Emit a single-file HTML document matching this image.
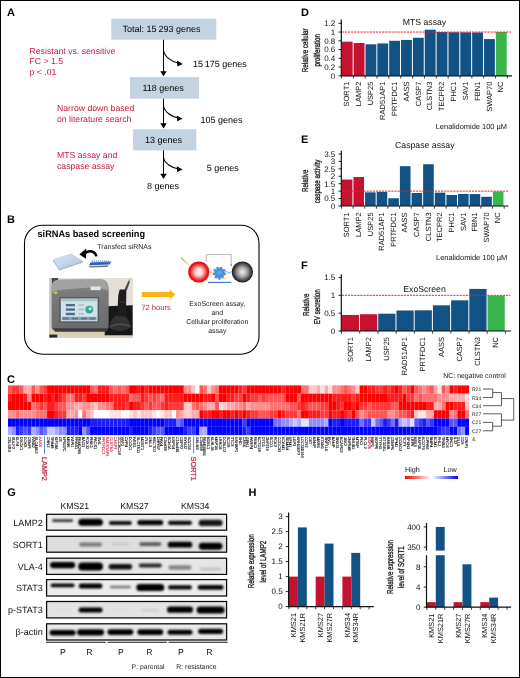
<!DOCTYPE html>
<html lang="en"><head><meta charset="utf-8"><title>Figure</title>
<style>
html,body{margin:0;padding:0;background:#fff;}
body{width:520px;height:678px;overflow:hidden;}
svg{display:block;font-family:"Liberation Sans",Arial,Helvetica,sans-serif;text-rendering:geometricPrecision;}
</style></head><body>
<svg width="520" height="678" viewBox="0 0 520 678">
<defs>
<filter id="b1" x="-20%" y="-80%" width="140%" height="260%"><feGaussianBlur stdDeviation="0.9"/></filter>
<filter id="b2" x="-20%" y="-80%" width="140%" height="260%"><feGaussianBlur stdDeviation="0.6"/></filter>
<filter id="b3" x="-10%" y="-10%" width="120%" height="120%"><feGaussianBlur stdDeviation="0.5"/></filter>
<radialGradient id="gRed" cx="0.5" cy="0.5" r="0.5"><stop offset="0" stop-color="#fff"/><stop offset="0.35" stop-color="#ffd0d0"/><stop offset="0.8" stop-color="#f02020"/><stop offset="1" stop-color="#e00000"/></radialGradient>
<radialGradient id="gGray" cx="0.5" cy="0.5" r="0.5"><stop offset="0" stop-color="#f0f0f0"/><stop offset="0.45" stop-color="#a8a8a8"/><stop offset="0.85" stop-color="#3a3a3a"/><stop offset="1" stop-color="#1a1a1a"/></radialGradient>
<radialGradient id="gBlue" cx="0.5" cy="0.5" r="0.5"><stop offset="0" stop-color="#6ab0ee"/><stop offset="0.7" stop-color="#3a8ad8"/><stop offset="1" stop-color="#4a90d8" stop-opacity="0.6"/></radialGradient>
<linearGradient id="gLeg" x1="0" x2="1" y1="0" y2="0"><stop offset="0" stop-color="#ff0000"/><stop offset="0.5" stop-color="#ffffff"/><stop offset="1" stop-color="#0000ff"/></linearGradient>
<linearGradient id="gMach" x1="0" x2="0" y1="0" y2="1"><stop offset="0" stop-color="#8d8d8d"/><stop offset="0.25" stop-color="#7a7a7a"/><stop offset="1" stop-color="#6a6a6a"/></linearGradient>
<linearGradient id="gPlate" x1="0" x2="1" y1="0" y2="1"><stop offset="0" stop-color="#dfe8f5"/><stop offset="1" stop-color="#a9bfe0"/></linearGradient>
</defs>
<rect x="0.00" y="0.00" width="520.00" height="678.00" fill="#fff"/>
<rect x="0.5" y="0.5" width="519" height="677" fill="none" stroke="#000" stroke-width="1"/>
<text x="7.00" y="16.00" font-size="11" fill="#000" font-weight="bold">A</text>
<text x="7.00" y="223.30" font-size="11" fill="#000" font-weight="bold">B</text>
<text x="7.00" y="382.60" font-size="11" fill="#000" font-weight="bold">C</text>
<text x="301.00" y="16.30" font-size="11" fill="#000" font-weight="bold">D</text>
<text x="301.00" y="143.20" font-size="11" fill="#000" font-weight="bold">E</text>
<text x="301.00" y="268.80" font-size="11" fill="#000" font-weight="bold">F</text>
<text x="7.30" y="496.40" font-size="11" fill="#000" font-weight="bold">G</text>
<text x="248.50" y="496.40" font-size="11" fill="#000" font-weight="bold">H</text>
<rect x="111.30" y="18.70" width="105.00" height="21.00" fill="#c4d3e1"/>
<rect x="130.00" y="77.10" width="69.00" height="21.60" fill="#c4d3e1"/>
<rect x="133.00" y="129.20" width="63.30" height="21.20" fill="#c4d3e1"/>
<text x="161.50" y="32.20" font-size="9" fill="#000" text-anchor="middle">Total: 15 293 genes</text>
<text x="163.20" y="91.20" font-size="9" fill="#000" text-anchor="middle">118 genes</text>
<text x="163.40" y="142.60" font-size="9" fill="#000" text-anchor="middle">13 genes</text>
<text x="193.00" y="67.20" font-size="9" fill="#000">15 175 genes</text>
<text x="200.50" y="122.50" font-size="9" fill="#000">105 genes</text>
<text x="206.80" y="170.50" font-size="9" fill="#000">5 genes</text>
<text x="147.00" y="188.80" font-size="9" fill="#000">8 genes</text>
<line x1="163.50" y1="39.70" x2="163.50" y2="72.60" stroke="#000" stroke-width="1"/>
<path d="M160.3,71.3 L166.7,71.3 L163.5,76.6 Z" fill="#000"/>
<path d="M163.5,50.5 C164.5,56.5 171.5,61.8 178.8,63.3" fill="none" stroke="#000" stroke-width="1.15"/>
<path d="M182.8,63.9 L177.4,66.4 L176.9,60.5 Z" fill="#000"/>
<line x1="163.50" y1="98.70" x2="163.50" y2="124.60" stroke="#000" stroke-width="1"/>
<path d="M160.3,123.3 L166.7,123.3 L163.5,128.6 Z" fill="#000"/>
<path d="M163.5,106 C164.5,112 171.5,116.7 178.6,118.2" fill="none" stroke="#000" stroke-width="1.15"/>
<path d="M182.6,118.8 L177.2,121.3 L176.7,115.39999999999999 Z" fill="#000"/>
<line x1="163.50" y1="150.40" x2="163.50" y2="175.00" stroke="#000" stroke-width="1"/>
<path d="M160.3,173.7 L166.7,173.7 L163.5,179 Z" fill="#000"/>
<path d="M163.5,157.5 C164.5,163.5 171.5,167.5 178.6,169.0" fill="none" stroke="#000" stroke-width="1.15"/>
<path d="M182.6,169.6 L177.2,172.1 L176.7,166.2 Z" fill="#000"/>
<text x="29.50" y="53.80" font-size="8.7" fill="#c8193c">Resistant vs. sensitive</text>
<text x="29.50" y="64.30" font-size="8.7" fill="#c8193c">FC > 1.5</text>
<text x="29.50" y="74.70" font-size="8.7" fill="#c8193c">p &lt; .01</text>
<text x="57.00" y="110.80" font-size="8.7" fill="#c8193c">Narrow down based</text>
<text x="57.00" y="121.90" font-size="8.7" fill="#c8193c">on literature search</text>
<text x="57.00" y="158.20" font-size="8.7" fill="#c8193c">MTS assay and</text>
<text x="57.00" y="168.70" font-size="8.7" fill="#c8193c">caspase assay</text>
<rect x="24.5" y="225.2" width="234.5" height="129" rx="18" ry="18" fill="#fff" stroke="#000" stroke-width="1.1"/>
<text x="37.50" y="236.90" font-size="9.6" fill="#000" font-weight="bold" textLength="107.5" lengthAdjust="spacingAndGlyphs">siRNAs based screening</text>
<text x="97.30" y="249.30" font-size="7" fill="#222">Transfect siRNAs</text>
<g filter="url(#b3)">
<path d="M53.2,259.6 L71.5,254 L82.6,261.2 L59.2,269.3 Z" fill="url(#gPlate)" stroke="#b7c6e2" stroke-width="0.6"/>
<path d="M53.2,259.6 L59.2,269.3 L59.4,270.4 L53.3,261.2 Z" fill="#8fa6cf"/>
<path d="M59.2,269.3 L82.6,261.2 L82.6,262.6 L59.4,270.6 Z" fill="#9db2d8"/>
<path d="M90.5,262.6 L111.2,261.6 L109.6,264.4 L89,265.2 Z" fill="#3060b8"/>
<line x1="92.40" y1="260.40" x2="92.20" y2="263.00" stroke="#5b86d0" stroke-width="0.9"/>
<line x1="94.40" y1="260.40" x2="94.20" y2="263.00" stroke="#5b86d0" stroke-width="0.9"/>
<line x1="96.40" y1="260.40" x2="96.20" y2="263.00" stroke="#5b86d0" stroke-width="0.9"/>
<line x1="98.40" y1="260.40" x2="98.20" y2="263.00" stroke="#5b86d0" stroke-width="0.9"/>
<line x1="100.40" y1="260.40" x2="100.20" y2="263.00" stroke="#5b86d0" stroke-width="0.9"/>
<line x1="102.40" y1="260.40" x2="102.20" y2="263.00" stroke="#5b86d0" stroke-width="0.9"/>
<line x1="104.40" y1="260.40" x2="104.20" y2="263.00" stroke="#5b86d0" stroke-width="0.9"/>
<line x1="106.40" y1="260.40" x2="106.20" y2="263.00" stroke="#5b86d0" stroke-width="0.9"/>
<line x1="108.40" y1="260.40" x2="108.20" y2="263.00" stroke="#5b86d0" stroke-width="0.9"/>
<path d="M88.6,265.9 L108.6,265.2 L107.6,266.9 L90,267.4 Z" fill="#222" opacity="0.6"/>
</g>
<path d="M96.3,256.4 C95.4,251.2 89.6,249.6 85,253" fill="none" stroke="#000" stroke-width="2.4"/>
<path d="M79.4,254.6 L86.2,248.6 L86.0,258.8 Z" fill="#000"/>
<g filter="url(#b2)"><svg x="49.2" y="278" width="83.6" height="59.8" viewBox="0 0 83 59.5" preserveAspectRatio="none">
<rect x="-2" y="-2" width="87" height="63.5" fill="#dcd8d0"/>
<rect x="0" y="0" width="83" height="10" fill="#e6e3dd"/>
<rect x="60" y="0" width="23" height="28" fill="#e4e0d8"/>
<path d="M2,0 L9,0 L8,9 L3,12 Z" fill="#4a4a4a"/>
<rect x="0" y="0" width="2.5" height="56" fill="#c9c9c9"/>
<rect x="0" y="50" width="83" height="9.5" fill="#d9cfb4"/>
<path d="M57,28 L83,27 L83,57 L55,57 Z" fill="#161616"/>
<rect x="0" y="56.3" width="8" height="3.2" fill="#2a2a2a"/>
<path d="M2.4,9 Q2.4,2 10,1.8 L50,1.3 Q59,1.5 59,10 L59,48 Q59,52.5 54,52.5 L7,52.5 Q2.4,52.5 2.4,48 Z" fill="url(#gMach)"/>
<path d="M2.4,9 Q2.4,2 10,1.8 L50,1.3 Q59,1.5 59,10 L59,13 Q52,9 40,9.5 L10,12 Q4,12.5 2.4,16 Z" fill="#a2a2a2"/>
<path d="M4,50 L58,50 L57,53.5 L6,53.5 Z" fill="#3a3a3a"/>
<rect x="10" y="19" width="39.5" height="25.6" rx="1" fill="#55595e"/>
<rect x="11.5" y="20.5" width="36.5" height="22.6" fill="#d3e2e8"/>
<rect x="11.5" y="20.5" width="36.5" height="2.6" fill="#aebfca"/>
<rect x="16.5" y="25.8" width="9" height="2.4" fill="#4e6c86"/>
<rect x="29" y="26.3" width="5.5" height="1.2" fill="#9fb4c0"/>
<rect x="16.5" y="30.2" width="9" height="2.4" fill="#4e6c86"/>
<rect x="29" y="30.7" width="5.5" height="1.2" fill="#9fb4c0"/>
<rect x="16.5" y="34.6" width="9" height="2.4" fill="#4e6c86"/>
<rect x="29" y="35.1" width="5.5" height="1.2" fill="#9fb4c0"/>
<circle cx="39.8" cy="31.4" r="3.9" fill="#36a596"/>
<circle cx="40.6" cy="30.6" r="1.6" fill="#c9ebe4"/>
<rect x="12.5" y="38.6" width="34.5" height="3.4" fill="#8ba3b3"/>
<rect x="13.5" y="39.2" width="6" height="2.2" fill="#5d7c93"/>
<rect x="22.5" y="39.2" width="6" height="2.2" fill="#5d7c93"/>
<rect x="31.5" y="39.2" width="6" height="2.2" fill="#5d7c93"/>
<rect x="40.0" y="39.2" width="6" height="2.2" fill="#5d7c93"/>
<rect x="41" y="8.5" width="10" height="3.6" fill="#e3e6ea"/>
<rect x="4.6" y="13.6" width="3.4" height="2" fill="#d6d04a"/>
<path d="M59,49 Q62,39 67.5,36.5 L73.5,36.5 Q79,40 81.5,49 Q70,56.5 59,49 Z" fill="#323234"/>
<path d="M61,48.5 Q70,43.5 80,48" fill="none" stroke="#6a6a6c" stroke-width="0.8"/>
<path d="M67.6,38 L68.6,17 L70,11.5 L76.6,11.5 L76.2,38 Z" fill="#1b1b1c"/>
<path d="M69.5,24 L75.8,24" stroke="#555" stroke-width="0.6"/>
<path d="M74.5,12 L78.6,3 L80.2,3.6 L77,12.6 Z" fill="#4a4a4a"/>
<path d="M78.6,3.2 L80.4,1.4" stroke="#333" stroke-width="0.7"/>
</svg></g>
<path d="M141.8,292 L169.8,292 L169.8,289.6 L175.2,294.5 L169.8,299.4 L169.8,297 L141.8,297 Z" fill="#f6b418"/>
<text x="141.20" y="309.60" font-size="7.6" fill="#c8193c">72 hours</text>
<g filter="url(#b3)">
<path d="M206.3,261.5 L206.3,254.6 L231.2,254.6 L231.2,264" fill="none" stroke="#9a9a9a" stroke-width="0.7"/>
<path d="M180.2,256.6 L182.6,258 L188.6,264.8 L181.4,259.6 Z" fill="#d9e021"/>
<line x1="182.00" y1="258.00" x2="188.60" y2="264.80" stroke="#b8b060" stroke-width="0.6"/>
<circle cx="198.8" cy="272" r="10.6" fill="url(#gRed)"/>
<circle cx="242.4" cy="272" r="10.6" fill="url(#gGray)"/>
<line x1="209.40" y1="272.00" x2="214.00" y2="272.60" stroke="#e8c23a" stroke-width="0.8"/>
<circle cx="219.4" cy="273" r="5.4" fill="url(#gBlue)"/>
<circle cx="224.72" cy="273.94" r="1.3" fill="#4a90dc"/>
<circle cx="222.87" cy="277.14" r="1.3" fill="#4a90dc"/>
<circle cx="219.40" cy="278.40" r="1.3" fill="#4a90dc"/>
<circle cx="215.93" cy="277.14" r="1.3" fill="#4a90dc"/>
<circle cx="214.08" cy="273.94" r="1.3" fill="#4a90dc"/>
<circle cx="214.72" cy="270.30" r="1.3" fill="#4a90dc"/>
<circle cx="217.55" cy="267.93" r="1.3" fill="#4a90dc"/>
<circle cx="221.25" cy="267.93" r="1.3" fill="#4a90dc"/>
<circle cx="224.08" cy="270.30" r="1.3" fill="#4a90dc"/>
<path d="M224,272.6 L226.5,271.4 L229,273.2 L231.6,271.6" fill="none" stroke="#5a9ae0" stroke-width="0.9"/>
<path d="M222.5,276.5 L225.5,279" stroke="#e8c23a" stroke-width="0.9" fill="none"/>
<path d="M214.6,268 L216.6,270" stroke="#e8c23a" stroke-width="0.9" fill="none"/>
<circle cx="231.3" cy="265" r="0.9" fill="#888"/>
<line x1="208.00" y1="282.40" x2="231.20" y2="282.40" stroke="#3a6cc8" stroke-width="1.1"/>
</g>
<text x="217.30" y="306.00" font-size="7" fill="#222" text-anchor="middle">ExoScreen assay,</text>
<text x="217.30" y="314.60" font-size="7" fill="#222" text-anchor="middle">and</text>
<text x="217.30" y="323.80" font-size="7" fill="#222" text-anchor="middle">Cellular proliferation</text>
<text x="217.30" y="332.60" font-size="7" fill="#222" text-anchor="middle">assay</text>
<rect x="341.80" y="41.67" width="10.85" height="34.12" fill="#c41230"/>
<rect x="353.65" y="42.99" width="10.85" height="32.81" fill="#c41230"/>
<rect x="365.50" y="44.30" width="10.85" height="31.50" fill="#135285"/>
<rect x="377.35" y="43.42" width="10.85" height="32.38" fill="#135285"/>
<rect x="389.20" y="40.80" width="10.85" height="35.00" fill="#135285"/>
<rect x="401.05" y="39.92" width="10.85" height="35.88" fill="#135285"/>
<rect x="412.90" y="37.74" width="10.85" height="38.06" fill="#135285"/>
<rect x="424.75" y="29.69" width="10.85" height="46.11" fill="#135285"/>
<rect x="436.60" y="32.05" width="10.85" height="43.75" fill="#135285"/>
<rect x="448.45" y="32.27" width="10.85" height="43.53" fill="#135285"/>
<rect x="460.30" y="32.36" width="10.85" height="43.44" fill="#135285"/>
<rect x="472.15" y="32.49" width="10.85" height="43.31" fill="#135285"/>
<rect x="484.00" y="39.05" width="10.85" height="36.75" fill="#135285"/>
<rect x="495.85" y="32.05" width="10.85" height="43.75" fill="#39b54a"/>
<line x1="341.30" y1="19.50" x2="341.30" y2="76.40" stroke="#111" stroke-width="1.2"/>
<line x1="340.70" y1="75.80" x2="512.00" y2="75.80" stroke="#111" stroke-width="1.2"/>
<line x1="338.50" y1="75.80" x2="341.30" y2="75.80" stroke="#111" stroke-width="0.9"/>
<text x="335.30" y="78.65" font-size="8.0" fill="#111" text-anchor="end">0</text>
<line x1="338.50" y1="67.05" x2="341.30" y2="67.05" stroke="#111" stroke-width="0.9"/>
<text x="335.30" y="69.90" font-size="8.0" fill="#111" text-anchor="end">0.2</text>
<line x1="338.50" y1="58.30" x2="341.30" y2="58.30" stroke="#111" stroke-width="0.9"/>
<text x="335.30" y="61.15" font-size="8.0" fill="#111" text-anchor="end">0.4</text>
<line x1="338.50" y1="49.55" x2="341.30" y2="49.55" stroke="#111" stroke-width="0.9"/>
<text x="335.30" y="52.40" font-size="8.0" fill="#111" text-anchor="end">0.6</text>
<line x1="338.50" y1="40.80" x2="341.30" y2="40.80" stroke="#111" stroke-width="0.9"/>
<text x="335.30" y="43.65" font-size="8.0" fill="#111" text-anchor="end">0.8</text>
<line x1="338.50" y1="32.05" x2="341.30" y2="32.05" stroke="#111" stroke-width="0.9"/>
<text x="335.30" y="34.90" font-size="8.0" fill="#111" text-anchor="end">1</text>
<line x1="338.50" y1="23.30" x2="341.30" y2="23.30" stroke="#111" stroke-width="0.9"/>
<text x="335.30" y="26.15" font-size="8.0" fill="#111" text-anchor="end">1.2</text>
<line x1="341.50" y1="75.80" x2="341.50" y2="78.50" stroke="#111" stroke-width="0.8"/>
<line x1="353.35" y1="75.80" x2="353.35" y2="78.50" stroke="#111" stroke-width="0.8"/>
<line x1="365.20" y1="75.80" x2="365.20" y2="78.50" stroke="#111" stroke-width="0.8"/>
<line x1="377.05" y1="75.80" x2="377.05" y2="78.50" stroke="#111" stroke-width="0.8"/>
<line x1="388.90" y1="75.80" x2="388.90" y2="78.50" stroke="#111" stroke-width="0.8"/>
<line x1="400.75" y1="75.80" x2="400.75" y2="78.50" stroke="#111" stroke-width="0.8"/>
<line x1="412.60" y1="75.80" x2="412.60" y2="78.50" stroke="#111" stroke-width="0.8"/>
<line x1="424.45" y1="75.80" x2="424.45" y2="78.50" stroke="#111" stroke-width="0.8"/>
<line x1="436.30" y1="75.80" x2="436.30" y2="78.50" stroke="#111" stroke-width="0.8"/>
<line x1="448.15" y1="75.80" x2="448.15" y2="78.50" stroke="#111" stroke-width="0.8"/>
<line x1="460.00" y1="75.80" x2="460.00" y2="78.50" stroke="#111" stroke-width="0.8"/>
<line x1="471.85" y1="75.80" x2="471.85" y2="78.50" stroke="#111" stroke-width="0.8"/>
<line x1="483.70" y1="75.80" x2="483.70" y2="78.50" stroke="#111" stroke-width="0.8"/>
<line x1="495.55" y1="75.80" x2="495.55" y2="78.50" stroke="#111" stroke-width="0.8"/>
<line x1="507.40" y1="75.80" x2="507.40" y2="78.50" stroke="#111" stroke-width="0.8"/>
<line x1="341.80" y1="32.05" x2="511.00" y2="32.05" stroke="#ee1c25" stroke-width="1" stroke-dasharray="2.1 1"/>
<text transform="translate(349.43 81.60) rotate(-90)" font-size="7.5" fill="#111" text-anchor="end">SORT1</text>
<text transform="translate(361.27 81.60) rotate(-90)" font-size="7.5" fill="#111" text-anchor="end">LAMP2</text>
<text transform="translate(373.12 81.60) rotate(-90)" font-size="7.5" fill="#111" text-anchor="end">USP25</text>
<text transform="translate(384.98 81.60) rotate(-90)" font-size="7.5" fill="#111" text-anchor="end">RAD51AP1</text>
<text transform="translate(396.82 81.60) rotate(-90)" font-size="7.5" fill="#111" text-anchor="end">PRTFDC1</text>
<text transform="translate(408.68 81.60) rotate(-90)" font-size="7.5" fill="#111" text-anchor="end">AASS</text>
<text transform="translate(420.52 81.60) rotate(-90)" font-size="7.5" fill="#111" text-anchor="end">CASP7</text>
<text transform="translate(432.38 81.60) rotate(-90)" font-size="7.5" fill="#111" text-anchor="end">CLSTN3</text>
<text transform="translate(444.22 81.60) rotate(-90)" font-size="7.5" fill="#111" text-anchor="end">TECPR2</text>
<text transform="translate(456.07 81.60) rotate(-90)" font-size="7.5" fill="#111" text-anchor="end">PHC1</text>
<text transform="translate(467.93 81.60) rotate(-90)" font-size="7.5" fill="#111" text-anchor="end">SAV1</text>
<text transform="translate(479.78 81.60) rotate(-90)" font-size="7.5" fill="#111" text-anchor="end">FBN1</text>
<text transform="translate(491.62 81.60) rotate(-90)" font-size="7.5" fill="#111" text-anchor="end">SWAP70</text>
<text transform="translate(503.47 81.60) rotate(-90)" font-size="7.5" fill="#111" text-anchor="end">NC</text>
<text x="424.50" y="25.40" font-size="8.7" fill="#111" text-anchor="middle">MTS assay</text>
<text transform="translate(308.40 50.30) rotate(-90) scale(0.72 1)" font-size="8.6" fill="#111" stroke="#111" stroke-width="0.3" text-anchor="middle">Relative cellular</text>
<text transform="translate(319.70 50.30) rotate(-90) scale(0.72 1)" font-size="8.6" fill="#111" stroke="#111" stroke-width="0.3" text-anchor="middle">proliferation</text>
<text x="507.00" y="128.60" font-size="7.45" fill="#111" text-anchor="end">Lenalidomide 100 µM</text>
<rect x="341.80" y="179.55" width="10.62" height="26.45" fill="#c41230"/>
<rect x="353.42" y="177.02" width="10.62" height="28.98" fill="#c41230"/>
<rect x="365.04" y="192.33" width="10.62" height="13.67" fill="#135285"/>
<rect x="376.66" y="191.88" width="10.62" height="14.12" fill="#135285"/>
<rect x="388.28" y="198.27" width="10.62" height="7.73" fill="#135285"/>
<rect x="399.90" y="166.18" width="10.62" height="39.82" fill="#135285"/>
<rect x="411.52" y="193.00" width="10.62" height="13.00" fill="#135285"/>
<rect x="423.14" y="164.24" width="10.62" height="41.76" fill="#135285"/>
<rect x="434.76" y="192.63" width="10.62" height="13.37" fill="#135285"/>
<rect x="446.38" y="195.00" width="10.62" height="11.00" fill="#135285"/>
<rect x="458.00" y="193.96" width="10.62" height="12.04" fill="#135285"/>
<rect x="469.62" y="194.11" width="10.62" height="11.89" fill="#135285"/>
<rect x="481.24" y="196.79" width="10.62" height="9.21" fill="#135285"/>
<rect x="492.86" y="191.59" width="10.62" height="14.41" fill="#39b54a"/>
<line x1="341.30" y1="150.80" x2="341.30" y2="206.60" stroke="#111" stroke-width="1.2"/>
<line x1="340.70" y1="206.00" x2="508.50" y2="206.00" stroke="#111" stroke-width="1.2"/>
<line x1="338.50" y1="206.00" x2="341.30" y2="206.00" stroke="#111" stroke-width="0.9"/>
<text x="335.30" y="208.85" font-size="8.0" fill="#111" text-anchor="end">0</text>
<line x1="338.50" y1="198.57" x2="341.30" y2="198.57" stroke="#111" stroke-width="0.9"/>
<text x="335.30" y="201.42" font-size="8.0" fill="#111" text-anchor="end">0.5</text>
<line x1="338.50" y1="191.14" x2="341.30" y2="191.14" stroke="#111" stroke-width="0.9"/>
<text x="335.30" y="193.99" font-size="8.0" fill="#111" text-anchor="end">1</text>
<line x1="338.50" y1="183.71" x2="341.30" y2="183.71" stroke="#111" stroke-width="0.9"/>
<text x="335.30" y="186.56" font-size="8.0" fill="#111" text-anchor="end">1.5</text>
<line x1="338.50" y1="176.28" x2="341.30" y2="176.28" stroke="#111" stroke-width="0.9"/>
<text x="335.30" y="179.13" font-size="8.0" fill="#111" text-anchor="end">2</text>
<line x1="338.50" y1="168.85" x2="341.30" y2="168.85" stroke="#111" stroke-width="0.9"/>
<text x="335.30" y="171.70" font-size="8.0" fill="#111" text-anchor="end">2.5</text>
<line x1="338.50" y1="161.42" x2="341.30" y2="161.42" stroke="#111" stroke-width="0.9"/>
<text x="335.30" y="164.27" font-size="8.0" fill="#111" text-anchor="end">3</text>
<line x1="338.50" y1="153.99" x2="341.30" y2="153.99" stroke="#111" stroke-width="0.9"/>
<text x="335.30" y="156.84" font-size="8.0" fill="#111" text-anchor="end">3.5</text>
<line x1="341.50" y1="206.00" x2="341.50" y2="208.70" stroke="#111" stroke-width="0.8"/>
<line x1="353.12" y1="206.00" x2="353.12" y2="208.70" stroke="#111" stroke-width="0.8"/>
<line x1="364.74" y1="206.00" x2="364.74" y2="208.70" stroke="#111" stroke-width="0.8"/>
<line x1="376.36" y1="206.00" x2="376.36" y2="208.70" stroke="#111" stroke-width="0.8"/>
<line x1="387.98" y1="206.00" x2="387.98" y2="208.70" stroke="#111" stroke-width="0.8"/>
<line x1="399.60" y1="206.00" x2="399.60" y2="208.70" stroke="#111" stroke-width="0.8"/>
<line x1="411.22" y1="206.00" x2="411.22" y2="208.70" stroke="#111" stroke-width="0.8"/>
<line x1="422.84" y1="206.00" x2="422.84" y2="208.70" stroke="#111" stroke-width="0.8"/>
<line x1="434.46" y1="206.00" x2="434.46" y2="208.70" stroke="#111" stroke-width="0.8"/>
<line x1="446.08" y1="206.00" x2="446.08" y2="208.70" stroke="#111" stroke-width="0.8"/>
<line x1="457.70" y1="206.00" x2="457.70" y2="208.70" stroke="#111" stroke-width="0.8"/>
<line x1="469.32" y1="206.00" x2="469.32" y2="208.70" stroke="#111" stroke-width="0.8"/>
<line x1="480.94" y1="206.00" x2="480.94" y2="208.70" stroke="#111" stroke-width="0.8"/>
<line x1="492.56" y1="206.00" x2="492.56" y2="208.70" stroke="#111" stroke-width="0.8"/>
<line x1="504.18" y1="206.00" x2="504.18" y2="208.70" stroke="#111" stroke-width="0.8"/>
<line x1="341.80" y1="191.14" x2="508.00" y2="191.14" stroke="#ee1c25" stroke-width="1" stroke-dasharray="2.1 1"/>
<text transform="translate(349.31 212.40) rotate(-90)" font-size="7.5" fill="#111" text-anchor="end">SORT1</text>
<text transform="translate(360.93 212.40) rotate(-90)" font-size="7.5" fill="#111" text-anchor="end">LAMP2</text>
<text transform="translate(372.55 212.40) rotate(-90)" font-size="7.5" fill="#111" text-anchor="end">USP25</text>
<text transform="translate(384.17 212.40) rotate(-90)" font-size="7.5" fill="#111" text-anchor="end">RAD51AP1</text>
<text transform="translate(395.79 212.40) rotate(-90)" font-size="7.5" fill="#111" text-anchor="end">PRTFDC1</text>
<text transform="translate(407.41 212.40) rotate(-90)" font-size="7.5" fill="#111" text-anchor="end">AASS</text>
<text transform="translate(419.03 212.40) rotate(-90)" font-size="7.5" fill="#111" text-anchor="end">CASP7</text>
<text transform="translate(430.65 212.40) rotate(-90)" font-size="7.5" fill="#111" text-anchor="end">CLSTN3</text>
<text transform="translate(442.27 212.40) rotate(-90)" font-size="7.5" fill="#111" text-anchor="end">TECPR2</text>
<text transform="translate(453.89 212.40) rotate(-90)" font-size="7.5" fill="#111" text-anchor="end">PHC1</text>
<text transform="translate(465.51 212.40) rotate(-90)" font-size="7.5" fill="#111" text-anchor="end">SAV1</text>
<text transform="translate(477.13 212.40) rotate(-90)" font-size="7.5" fill="#111" text-anchor="end">FBN1</text>
<text transform="translate(488.75 212.40) rotate(-90)" font-size="7.5" fill="#111" text-anchor="end">SWAP70</text>
<text transform="translate(500.37 212.40) rotate(-90)" font-size="7.5" fill="#111" text-anchor="end">NC</text>
<text x="424.80" y="148.00" font-size="8.7" fill="#111" text-anchor="middle">Caspase assay</text>
<text transform="translate(308.30 180.80) rotate(-90) scale(0.72 1)" font-size="8.6" fill="#111" stroke="#111" stroke-width="0.3" text-anchor="middle">Relative</text>
<text transform="translate(319.70 181.40) rotate(-90) scale(0.72 1)" font-size="8.6" fill="#111" stroke="#111" stroke-width="0.3" text-anchor="middle">caspase activity</text>
<text x="507.30" y="260.40" font-size="7.45" fill="#111" text-anchor="end">Lenalidomide 100 µM</text>
<rect x="341.80" y="314.95" width="17.22" height="16.05" fill="#c41230"/>
<rect x="360.02" y="314.24" width="17.22" height="16.76" fill="#c41230"/>
<rect x="378.24" y="313.70" width="17.22" height="17.30" fill="#135285"/>
<rect x="396.46" y="310.49" width="17.22" height="20.51" fill="#135285"/>
<rect x="414.68" y="310.31" width="17.22" height="20.69" fill="#135285"/>
<rect x="432.90" y="305.32" width="17.22" height="25.68" fill="#135285"/>
<rect x="451.12" y="300.32" width="17.22" height="30.68" fill="#135285"/>
<rect x="469.34" y="288.91" width="17.22" height="42.09" fill="#135285"/>
<rect x="487.56" y="295.69" width="17.22" height="35.31" fill="#39b54a"/>
<line x1="341.30" y1="274.30" x2="341.30" y2="331.60" stroke="#111" stroke-width="1.2"/>
<line x1="340.70" y1="331.00" x2="511.00" y2="331.00" stroke="#111" stroke-width="1.2"/>
<line x1="338.50" y1="331.00" x2="341.30" y2="331.00" stroke="#111" stroke-width="0.9"/>
<text x="335.30" y="333.85" font-size="8.0" fill="#111" text-anchor="end">0</text>
<line x1="338.50" y1="313.17" x2="341.30" y2="313.17" stroke="#111" stroke-width="0.9"/>
<text x="335.30" y="316.02" font-size="8.0" fill="#111" text-anchor="end">0.5</text>
<line x1="338.50" y1="295.33" x2="341.30" y2="295.33" stroke="#111" stroke-width="0.9"/>
<text x="335.30" y="298.18" font-size="8.0" fill="#111" text-anchor="end">1</text>
<line x1="338.50" y1="277.50" x2="341.30" y2="277.50" stroke="#111" stroke-width="0.9"/>
<text x="335.30" y="280.35" font-size="8.0" fill="#111" text-anchor="end">1.5</text>
<line x1="341.50" y1="331.00" x2="341.50" y2="333.70" stroke="#111" stroke-width="0.8"/>
<line x1="359.72" y1="331.00" x2="359.72" y2="333.70" stroke="#111" stroke-width="0.8"/>
<line x1="377.94" y1="331.00" x2="377.94" y2="333.70" stroke="#111" stroke-width="0.8"/>
<line x1="396.16" y1="331.00" x2="396.16" y2="333.70" stroke="#111" stroke-width="0.8"/>
<line x1="414.38" y1="331.00" x2="414.38" y2="333.70" stroke="#111" stroke-width="0.8"/>
<line x1="432.60" y1="331.00" x2="432.60" y2="333.70" stroke="#111" stroke-width="0.8"/>
<line x1="450.82" y1="331.00" x2="450.82" y2="333.70" stroke="#111" stroke-width="0.8"/>
<line x1="469.04" y1="331.00" x2="469.04" y2="333.70" stroke="#111" stroke-width="0.8"/>
<line x1="487.26" y1="331.00" x2="487.26" y2="333.70" stroke="#111" stroke-width="0.8"/>
<line x1="505.48" y1="331.00" x2="505.48" y2="333.70" stroke="#111" stroke-width="0.8"/>
<line x1="341.80" y1="295.33" x2="510.50" y2="295.33" stroke="#ee1c25" stroke-width="1" stroke-dasharray="2.1 1"/>
<text transform="translate(352.61 337.00) rotate(-90)" font-size="7.5" fill="#111" text-anchor="end">SORT1</text>
<text transform="translate(370.83 337.00) rotate(-90)" font-size="7.5" fill="#111" text-anchor="end">LAMP2</text>
<text transform="translate(389.05 337.00) rotate(-90)" font-size="7.5" fill="#111" text-anchor="end">USP25</text>
<text transform="translate(407.27 337.00) rotate(-90)" font-size="7.5" fill="#111" text-anchor="end">RAD51AP1</text>
<text transform="translate(425.49 337.00) rotate(-90)" font-size="7.5" fill="#111" text-anchor="end">PRTFDC1</text>
<text transform="translate(443.71 337.00) rotate(-90)" font-size="7.5" fill="#111" text-anchor="end">AASS</text>
<text transform="translate(461.93 337.00) rotate(-90)" font-size="7.5" fill="#111" text-anchor="end">CASP7</text>
<text transform="translate(480.15 337.00) rotate(-90)" font-size="7.5" fill="#111" text-anchor="end">CLSTN3</text>
<text transform="translate(498.37 337.00) rotate(-90)" font-size="7.5" fill="#111" text-anchor="end">NC</text>
<text x="424.50" y="291.50" font-size="8.7" fill="#111" text-anchor="middle">ExoScreen</text>
<text transform="translate(309.00 304.80) rotate(-90) scale(0.72 1)" font-size="8.6" fill="#111" stroke="#111" stroke-width="0.3" text-anchor="middle">Relative</text>
<text transform="translate(320.40 306.80) rotate(-90) scale(0.72 1)" font-size="8.6" fill="#111" stroke="#111" stroke-width="0.3" text-anchor="middle">EV secretion</text>
<text x="505.80" y="377.60" font-size="6.9" fill="#111" text-anchor="end">NC: negative control</text>
<g>
<rect x="8.00" y="385.40" width="3.91" height="8.32" fill="#ff5555"/>
<rect x="11.91" y="385.40" width="3.91" height="8.32" fill="#ff3939"/>
<rect x="15.81" y="385.40" width="3.91" height="8.32" fill="#ff3939"/>
<rect x="19.72" y="385.40" width="3.91" height="8.32" fill="#ff5555"/>
<rect x="23.63" y="385.40" width="3.91" height="8.32" fill="#ffaaaa"/>
<rect x="27.54" y="385.40" width="3.91" height="8.32" fill="#ffaaaa"/>
<rect x="31.44" y="385.40" width="3.91" height="8.32" fill="#ff5555"/>
<rect x="35.35" y="385.40" width="3.91" height="8.32" fill="#ff8e8e"/>
<rect x="39.26" y="385.40" width="3.91" height="8.32" fill="#ff5555"/>
<rect x="43.16" y="385.40" width="3.91" height="8.32" fill="#ff3939"/>
<rect x="47.07" y="385.40" width="3.91" height="8.32" fill="#ff0000"/>
<rect x="50.98" y="385.40" width="3.91" height="8.32" fill="#ff0000"/>
<rect x="54.88" y="385.40" width="3.91" height="8.32" fill="#ff0000"/>
<rect x="58.79" y="385.40" width="3.91" height="8.32" fill="#ff0000"/>
<rect x="62.70" y="385.40" width="3.91" height="8.32" fill="#ff0000"/>
<rect x="66.61" y="385.40" width="3.91" height="8.32" fill="#ff0000"/>
<rect x="70.51" y="385.40" width="3.91" height="8.32" fill="#ff0000"/>
<rect x="74.42" y="385.40" width="3.91" height="8.32" fill="#ff0000"/>
<rect x="78.33" y="385.40" width="3.91" height="8.32" fill="#ff0000"/>
<rect x="82.23" y="385.40" width="3.91" height="8.32" fill="#ff0000"/>
<rect x="86.14" y="385.40" width="3.91" height="8.32" fill="#ff0000"/>
<rect x="90.05" y="385.40" width="3.91" height="8.32" fill="#ff5555"/>
<rect x="93.95" y="385.40" width="3.91" height="8.32" fill="#ff7171"/>
<rect x="97.86" y="385.40" width="3.91" height="8.32" fill="#ff1c1c"/>
<rect x="101.77" y="385.40" width="3.91" height="8.32" fill="#ff1c1c"/>
<rect x="105.67" y="385.40" width="3.91" height="8.32" fill="#ff1c1c"/>
<rect x="109.58" y="385.40" width="3.91" height="8.32" fill="#ff5555"/>
<rect x="113.49" y="385.40" width="3.91" height="8.32" fill="#ff7171"/>
<rect x="117.40" y="385.40" width="3.91" height="8.32" fill="#ff5555"/>
<rect x="121.30" y="385.40" width="3.91" height="8.32" fill="#ff7171"/>
<rect x="125.21" y="385.40" width="3.91" height="8.32" fill="#ff5555"/>
<rect x="129.12" y="385.40" width="3.91" height="8.32" fill="#ff0000"/>
<rect x="133.02" y="385.40" width="3.91" height="8.32" fill="#ff0000"/>
<rect x="136.93" y="385.40" width="3.91" height="8.32" fill="#ff1c1c"/>
<rect x="140.84" y="385.40" width="3.91" height="8.32" fill="#ff0000"/>
<rect x="144.75" y="385.40" width="3.91" height="8.32" fill="#ff1c1c"/>
<rect x="148.65" y="385.40" width="3.91" height="8.32" fill="#ff0000"/>
<rect x="152.56" y="385.40" width="3.91" height="8.32" fill="#ff0000"/>
<rect x="156.47" y="385.40" width="3.91" height="8.32" fill="#ff0000"/>
<rect x="160.37" y="385.40" width="3.91" height="8.32" fill="#ff0000"/>
<rect x="164.28" y="385.40" width="3.91" height="8.32" fill="#ff0000"/>
<rect x="168.19" y="385.40" width="3.91" height="8.32" fill="#ff0000"/>
<rect x="172.09" y="385.40" width="3.91" height="8.32" fill="#ff0000"/>
<rect x="176.00" y="385.40" width="3.91" height="8.32" fill="#ff0000"/>
<rect x="179.91" y="385.40" width="3.91" height="8.32" fill="#ff0000"/>
<rect x="183.81" y="385.40" width="3.91" height="8.32" fill="#ff8e8e"/>
<rect x="187.72" y="385.40" width="3.91" height="8.32" fill="#ff8e8e"/>
<rect x="191.63" y="385.40" width="3.91" height="8.32" fill="#ffc6c6"/>
<rect x="195.54" y="385.40" width="3.91" height="8.32" fill="#ffffff"/>
<rect x="199.44" y="385.40" width="3.91" height="8.32" fill="#ff5555"/>
<rect x="203.35" y="385.40" width="3.91" height="8.32" fill="#ff7171"/>
<rect x="207.26" y="385.40" width="3.91" height="8.32" fill="#ffc6c6"/>
<rect x="211.16" y="385.40" width="3.91" height="8.32" fill="#ff8e8e"/>
<rect x="215.07" y="385.40" width="3.91" height="8.32" fill="#ff7171"/>
<rect x="218.98" y="385.40" width="3.91" height="8.32" fill="#ff0000"/>
<rect x="222.88" y="385.40" width="3.91" height="8.32" fill="#ff0000"/>
<rect x="226.79" y="385.40" width="3.91" height="8.32" fill="#ff0000"/>
<rect x="230.70" y="385.40" width="3.91" height="8.32" fill="#ff0000"/>
<rect x="234.61" y="385.40" width="3.91" height="8.32" fill="#ff0000"/>
<rect x="238.51" y="385.40" width="3.91" height="8.32" fill="#ff1c1c"/>
<rect x="242.42" y="385.40" width="3.91" height="8.32" fill="#ff3939"/>
<rect x="246.33" y="385.40" width="3.91" height="8.32" fill="#ff0000"/>
<rect x="250.23" y="385.40" width="3.91" height="8.32" fill="#ff0000"/>
<rect x="254.14" y="385.40" width="3.91" height="8.32" fill="#ff0000"/>
<rect x="258.05" y="385.40" width="3.91" height="8.32" fill="#ff0000"/>
<rect x="261.96" y="385.40" width="3.91" height="8.32" fill="#ff0000"/>
<rect x="265.86" y="385.40" width="3.91" height="8.32" fill="#ff0000"/>
<rect x="269.77" y="385.40" width="3.91" height="8.32" fill="#ff0000"/>
<rect x="273.68" y="385.40" width="3.91" height="8.32" fill="#ff0000"/>
<rect x="277.58" y="385.40" width="3.91" height="8.32" fill="#ff0000"/>
<rect x="281.49" y="385.40" width="3.91" height="8.32" fill="#ff1c1c"/>
<rect x="285.40" y="385.40" width="3.91" height="8.32" fill="#ff0000"/>
<rect x="289.30" y="385.40" width="3.91" height="8.32" fill="#ff0000"/>
<rect x="293.21" y="385.40" width="3.91" height="8.32" fill="#ff0000"/>
<rect x="297.12" y="385.40" width="3.91" height="8.32" fill="#ff0000"/>
<rect x="301.02" y="385.40" width="3.91" height="8.32" fill="#ff7171"/>
<rect x="304.93" y="385.40" width="3.91" height="8.32" fill="#ff7171"/>
<rect x="308.84" y="385.40" width="3.91" height="8.32" fill="#ffc6c6"/>
<rect x="312.75" y="385.40" width="3.91" height="8.32" fill="#ffc6c6"/>
<rect x="316.65" y="385.40" width="3.91" height="8.32" fill="#ffaaaa"/>
<rect x="320.56" y="385.40" width="3.91" height="8.32" fill="#ffe3e3"/>
<rect x="324.47" y="385.40" width="3.91" height="8.32" fill="#ffaaaa"/>
<rect x="328.37" y="385.40" width="3.91" height="8.32" fill="#ffe3e3"/>
<rect x="332.28" y="385.40" width="3.91" height="8.32" fill="#ff8e8e"/>
<rect x="336.19" y="385.40" width="3.91" height="8.32" fill="#ff8e8e"/>
<rect x="340.10" y="385.40" width="3.91" height="8.32" fill="#ff7171"/>
<rect x="344.00" y="385.40" width="3.91" height="8.32" fill="#ff5555"/>
<rect x="347.91" y="385.40" width="3.91" height="8.32" fill="#ff7171"/>
<rect x="351.82" y="385.40" width="3.91" height="8.32" fill="#ff8e8e"/>
<rect x="355.72" y="385.40" width="3.91" height="8.32" fill="#ffc6c6"/>
<rect x="359.63" y="385.40" width="3.91" height="8.32" fill="#ff0000"/>
<rect x="363.54" y="385.40" width="3.91" height="8.32" fill="#ff0000"/>
<rect x="367.44" y="385.40" width="3.91" height="8.32" fill="#ff1c1c"/>
<rect x="371.35" y="385.40" width="3.91" height="8.32" fill="#ff1c1c"/>
<rect x="375.26" y="385.40" width="3.91" height="8.32" fill="#ff3939"/>
<rect x="379.17" y="385.40" width="3.91" height="8.32" fill="#ff3939"/>
<rect x="383.07" y="385.40" width="3.91" height="8.32" fill="#ff1c1c"/>
<rect x="386.98" y="385.40" width="3.91" height="8.32" fill="#ff3939"/>
<rect x="390.89" y="385.40" width="3.91" height="8.32" fill="#ff1c1c"/>
<rect x="394.79" y="385.40" width="3.91" height="8.32" fill="#ff0000"/>
<rect x="398.70" y="385.40" width="3.91" height="8.32" fill="#ff1c1c"/>
<rect x="402.61" y="385.40" width="3.91" height="8.32" fill="#ff5555"/>
<rect x="406.51" y="385.40" width="3.91" height="8.32" fill="#ff3939"/>
<rect x="410.42" y="385.40" width="3.91" height="8.32" fill="#ff0000"/>
<rect x="414.33" y="385.40" width="3.91" height="8.32" fill="#ff5555"/>
<rect x="418.24" y="385.40" width="3.91" height="8.32" fill="#ff7171"/>
<rect x="422.14" y="385.40" width="3.91" height="8.32" fill="#ff8e8e"/>
<rect x="426.05" y="385.40" width="3.91" height="8.32" fill="#ff7171"/>
<rect x="429.96" y="385.40" width="3.91" height="8.32" fill="#ff5555"/>
<rect x="433.86" y="385.40" width="3.91" height="8.32" fill="#ffaaaa"/>
<rect x="437.77" y="385.40" width="3.91" height="8.32" fill="#ffe3e3"/>
<rect x="441.68" y="385.40" width="3.91" height="8.32" fill="#ff5555"/>
<rect x="445.58" y="385.40" width="3.91" height="8.32" fill="#ff8e8e"/>
<rect x="449.49" y="385.40" width="3.91" height="8.32" fill="#ff0000"/>
<rect x="453.40" y="385.40" width="3.91" height="8.32" fill="#ff1c1c"/>
<rect x="457.31" y="385.40" width="3.91" height="8.32" fill="#ff0000"/>
<rect x="461.21" y="385.40" width="3.91" height="8.32" fill="#ff0000"/>
<rect x="465.12" y="385.40" width="3.91" height="8.32" fill="#ff0000"/>
<rect x="8.00" y="393.68" width="3.91" height="8.32" fill="#ff1c1c"/>
<rect x="11.91" y="393.68" width="3.91" height="8.32" fill="#ff0000"/>
<rect x="15.81" y="393.68" width="3.91" height="8.32" fill="#ff0000"/>
<rect x="19.72" y="393.68" width="3.91" height="8.32" fill="#ff0000"/>
<rect x="23.63" y="393.68" width="3.91" height="8.32" fill="#ff1c1c"/>
<rect x="27.54" y="393.68" width="3.91" height="8.32" fill="#ff8e8e"/>
<rect x="31.44" y="393.68" width="3.91" height="8.32" fill="#ff0000"/>
<rect x="35.35" y="393.68" width="3.91" height="8.32" fill="#ff0000"/>
<rect x="39.26" y="393.68" width="3.91" height="8.32" fill="#ff0000"/>
<rect x="43.16" y="393.68" width="3.91" height="8.32" fill="#ff1c1c"/>
<rect x="47.07" y="393.68" width="3.91" height="8.32" fill="#ff0000"/>
<rect x="50.98" y="393.68" width="3.91" height="8.32" fill="#ff1c1c"/>
<rect x="54.88" y="393.68" width="3.91" height="8.32" fill="#ff0000"/>
<rect x="58.79" y="393.68" width="3.91" height="8.32" fill="#ff1c1c"/>
<rect x="62.70" y="393.68" width="3.91" height="8.32" fill="#ff3939"/>
<rect x="66.61" y="393.68" width="3.91" height="8.32" fill="#ff7171"/>
<rect x="70.51" y="393.68" width="3.91" height="8.32" fill="#ff7171"/>
<rect x="74.42" y="393.68" width="3.91" height="8.32" fill="#ff1c1c"/>
<rect x="78.33" y="393.68" width="3.91" height="8.32" fill="#ff1c1c"/>
<rect x="82.23" y="393.68" width="3.91" height="8.32" fill="#ff3939"/>
<rect x="86.14" y="393.68" width="3.91" height="8.32" fill="#ff0000"/>
<rect x="90.05" y="393.68" width="3.91" height="8.32" fill="#ff0000"/>
<rect x="93.95" y="393.68" width="3.91" height="8.32" fill="#ff0000"/>
<rect x="97.86" y="393.68" width="3.91" height="8.32" fill="#ff0000"/>
<rect x="101.77" y="393.68" width="3.91" height="8.32" fill="#ff0000"/>
<rect x="105.67" y="393.68" width="3.91" height="8.32" fill="#ff0000"/>
<rect x="109.58" y="393.68" width="3.91" height="8.32" fill="#ff1c1c"/>
<rect x="113.49" y="393.68" width="3.91" height="8.32" fill="#ff1c1c"/>
<rect x="117.40" y="393.68" width="3.91" height="8.32" fill="#ff1c1c"/>
<rect x="121.30" y="393.68" width="3.91" height="8.32" fill="#ff1c1c"/>
<rect x="125.21" y="393.68" width="3.91" height="8.32" fill="#ff1c1c"/>
<rect x="129.12" y="393.68" width="3.91" height="8.32" fill="#ff7171"/>
<rect x="133.02" y="393.68" width="3.91" height="8.32" fill="#ff5555"/>
<rect x="136.93" y="393.68" width="3.91" height="8.32" fill="#ff5555"/>
<rect x="140.84" y="393.68" width="3.91" height="8.32" fill="#ff1c1c"/>
<rect x="144.75" y="393.68" width="3.91" height="8.32" fill="#ff3939"/>
<rect x="148.65" y="393.68" width="3.91" height="8.32" fill="#ff5555"/>
<rect x="152.56" y="393.68" width="3.91" height="8.32" fill="#ff3939"/>
<rect x="156.47" y="393.68" width="3.91" height="8.32" fill="#ff5555"/>
<rect x="160.37" y="393.68" width="3.91" height="8.32" fill="#ff7171"/>
<rect x="164.28" y="393.68" width="3.91" height="8.32" fill="#ff1c1c"/>
<rect x="168.19" y="393.68" width="3.91" height="8.32" fill="#ff1c1c"/>
<rect x="172.09" y="393.68" width="3.91" height="8.32" fill="#ff1c1c"/>
<rect x="176.00" y="393.68" width="3.91" height="8.32" fill="#ff1c1c"/>
<rect x="179.91" y="393.68" width="3.91" height="8.32" fill="#ff1c1c"/>
<rect x="183.81" y="393.68" width="3.91" height="8.32" fill="#ff0000"/>
<rect x="187.72" y="393.68" width="3.91" height="8.32" fill="#ff0000"/>
<rect x="191.63" y="393.68" width="3.91" height="8.32" fill="#ff0000"/>
<rect x="195.54" y="393.68" width="3.91" height="8.32" fill="#ff0000"/>
<rect x="199.44" y="393.68" width="3.91" height="8.32" fill="#ff0000"/>
<rect x="203.35" y="393.68" width="3.91" height="8.32" fill="#ff1c1c"/>
<rect x="207.26" y="393.68" width="3.91" height="8.32" fill="#ff1c1c"/>
<rect x="211.16" y="393.68" width="3.91" height="8.32" fill="#ff0000"/>
<rect x="215.07" y="393.68" width="3.91" height="8.32" fill="#ff5555"/>
<rect x="218.98" y="393.68" width="3.91" height="8.32" fill="#ff0000"/>
<rect x="222.88" y="393.68" width="3.91" height="8.32" fill="#ff0000"/>
<rect x="226.79" y="393.68" width="3.91" height="8.32" fill="#ff1c1c"/>
<rect x="230.70" y="393.68" width="3.91" height="8.32" fill="#ff1c1c"/>
<rect x="234.61" y="393.68" width="3.91" height="8.32" fill="#ff3939"/>
<rect x="238.51" y="393.68" width="3.91" height="8.32" fill="#ff3939"/>
<rect x="242.42" y="393.68" width="3.91" height="8.32" fill="#ff0000"/>
<rect x="246.33" y="393.68" width="3.91" height="8.32" fill="#ff1c1c"/>
<rect x="250.23" y="393.68" width="3.91" height="8.32" fill="#ff3939"/>
<rect x="254.14" y="393.68" width="3.91" height="8.32" fill="#ff3939"/>
<rect x="258.05" y="393.68" width="3.91" height="8.32" fill="#ff5555"/>
<rect x="261.96" y="393.68" width="3.91" height="8.32" fill="#ff3939"/>
<rect x="265.86" y="393.68" width="3.91" height="8.32" fill="#ff5555"/>
<rect x="269.77" y="393.68" width="3.91" height="8.32" fill="#ff5555"/>
<rect x="273.68" y="393.68" width="3.91" height="8.32" fill="#ff5555"/>
<rect x="277.58" y="393.68" width="3.91" height="8.32" fill="#ff5555"/>
<rect x="281.49" y="393.68" width="3.91" height="8.32" fill="#ff5555"/>
<rect x="285.40" y="393.68" width="3.91" height="8.32" fill="#ff0000"/>
<rect x="289.30" y="393.68" width="3.91" height="8.32" fill="#ff0000"/>
<rect x="293.21" y="393.68" width="3.91" height="8.32" fill="#ff0000"/>
<rect x="297.12" y="393.68" width="3.91" height="8.32" fill="#ff5555"/>
<rect x="301.02" y="393.68" width="3.91" height="8.32" fill="#ff0000"/>
<rect x="304.93" y="393.68" width="3.91" height="8.32" fill="#ff0000"/>
<rect x="308.84" y="393.68" width="3.91" height="8.32" fill="#ff0000"/>
<rect x="312.75" y="393.68" width="3.91" height="8.32" fill="#ff0000"/>
<rect x="316.65" y="393.68" width="3.91" height="8.32" fill="#ff0000"/>
<rect x="320.56" y="393.68" width="3.91" height="8.32" fill="#ff0000"/>
<rect x="324.47" y="393.68" width="3.91" height="8.32" fill="#ff0000"/>
<rect x="328.37" y="393.68" width="3.91" height="8.32" fill="#ff0000"/>
<rect x="332.28" y="393.68" width="3.91" height="8.32" fill="#ff1c1c"/>
<rect x="336.19" y="393.68" width="3.91" height="8.32" fill="#ff1c1c"/>
<rect x="340.10" y="393.68" width="3.91" height="8.32" fill="#ff1c1c"/>
<rect x="344.00" y="393.68" width="3.91" height="8.32" fill="#ff1c1c"/>
<rect x="347.91" y="393.68" width="3.91" height="8.32" fill="#ff1c1c"/>
<rect x="351.82" y="393.68" width="3.91" height="8.32" fill="#ff3939"/>
<rect x="355.72" y="393.68" width="3.91" height="8.32" fill="#ff1c1c"/>
<rect x="359.63" y="393.68" width="3.91" height="8.32" fill="#ff0000"/>
<rect x="363.54" y="393.68" width="3.91" height="8.32" fill="#ff0000"/>
<rect x="367.44" y="393.68" width="3.91" height="8.32" fill="#ff0000"/>
<rect x="371.35" y="393.68" width="3.91" height="8.32" fill="#ff0000"/>
<rect x="375.26" y="393.68" width="3.91" height="8.32" fill="#ff0000"/>
<rect x="379.17" y="393.68" width="3.91" height="8.32" fill="#ff0000"/>
<rect x="383.07" y="393.68" width="3.91" height="8.32" fill="#ff0000"/>
<rect x="386.98" y="393.68" width="3.91" height="8.32" fill="#ff1c1c"/>
<rect x="390.89" y="393.68" width="3.91" height="8.32" fill="#ff1c1c"/>
<rect x="394.79" y="393.68" width="3.91" height="8.32" fill="#ff1c1c"/>
<rect x="398.70" y="393.68" width="3.91" height="8.32" fill="#ff1c1c"/>
<rect x="402.61" y="393.68" width="3.91" height="8.32" fill="#ff0000"/>
<rect x="406.51" y="393.68" width="3.91" height="8.32" fill="#ff3939"/>
<rect x="410.42" y="393.68" width="3.91" height="8.32" fill="#ff3939"/>
<rect x="414.33" y="393.68" width="3.91" height="8.32" fill="#ff7171"/>
<rect x="418.24" y="393.68" width="3.91" height="8.32" fill="#ff5555"/>
<rect x="422.14" y="393.68" width="3.91" height="8.32" fill="#ff7171"/>
<rect x="426.05" y="393.68" width="3.91" height="8.32" fill="#ff7171"/>
<rect x="429.96" y="393.68" width="3.91" height="8.32" fill="#ff7171"/>
<rect x="433.86" y="393.68" width="3.91" height="8.32" fill="#ff7171"/>
<rect x="437.77" y="393.68" width="3.91" height="8.32" fill="#ff8e8e"/>
<rect x="441.68" y="393.68" width="3.91" height="8.32" fill="#ff8e8e"/>
<rect x="445.58" y="393.68" width="3.91" height="8.32" fill="#ff8e8e"/>
<rect x="449.49" y="393.68" width="3.91" height="8.32" fill="#ffaaaa"/>
<rect x="453.40" y="393.68" width="3.91" height="8.32" fill="#ffaaaa"/>
<rect x="457.31" y="393.68" width="3.91" height="8.32" fill="#ffaaaa"/>
<rect x="461.21" y="393.68" width="3.91" height="8.32" fill="#ffaaaa"/>
<rect x="465.12" y="393.68" width="3.91" height="8.32" fill="#ffe3e3"/>
<rect x="8.00" y="401.96" width="3.91" height="8.32" fill="#ff0000"/>
<rect x="11.91" y="401.96" width="3.91" height="8.32" fill="#ff0000"/>
<rect x="15.81" y="401.96" width="3.91" height="8.32" fill="#ff0000"/>
<rect x="19.72" y="401.96" width="3.91" height="8.32" fill="#ff0000"/>
<rect x="23.63" y="401.96" width="3.91" height="8.32" fill="#ff0000"/>
<rect x="27.54" y="401.96" width="3.91" height="8.32" fill="#ff0000"/>
<rect x="31.44" y="401.96" width="3.91" height="8.32" fill="#ff7171"/>
<rect x="35.35" y="401.96" width="3.91" height="8.32" fill="#ff5555"/>
<rect x="39.26" y="401.96" width="3.91" height="8.32" fill="#ff3939"/>
<rect x="43.16" y="401.96" width="3.91" height="8.32" fill="#ff5555"/>
<rect x="47.07" y="401.96" width="3.91" height="8.32" fill="#ff1c1c"/>
<rect x="50.98" y="401.96" width="3.91" height="8.32" fill="#ff1c1c"/>
<rect x="54.88" y="401.96" width="3.91" height="8.32" fill="#ff3939"/>
<rect x="58.79" y="401.96" width="3.91" height="8.32" fill="#ff5555"/>
<rect x="62.70" y="401.96" width="3.91" height="8.32" fill="#ff5555"/>
<rect x="66.61" y="401.96" width="3.91" height="8.32" fill="#ff8e8e"/>
<rect x="70.51" y="401.96" width="3.91" height="8.32" fill="#ff8e8e"/>
<rect x="74.42" y="401.96" width="3.91" height="8.32" fill="#ffaaaa"/>
<rect x="78.33" y="401.96" width="3.91" height="8.32" fill="#ffaaaa"/>
<rect x="82.23" y="401.96" width="3.91" height="8.32" fill="#ff8e8e"/>
<rect x="86.14" y="401.96" width="3.91" height="8.32" fill="#ff8e8e"/>
<rect x="90.05" y="401.96" width="3.91" height="8.32" fill="#ffaaaa"/>
<rect x="93.95" y="401.96" width="3.91" height="8.32" fill="#ffc6c6"/>
<rect x="97.86" y="401.96" width="3.91" height="8.32" fill="#ff8e8e"/>
<rect x="101.77" y="401.96" width="3.91" height="8.32" fill="#ff8e8e"/>
<rect x="105.67" y="401.96" width="3.91" height="8.32" fill="#ff7171"/>
<rect x="109.58" y="401.96" width="3.91" height="8.32" fill="#ff7171"/>
<rect x="113.49" y="401.96" width="3.91" height="8.32" fill="#ff1c1c"/>
<rect x="117.40" y="401.96" width="3.91" height="8.32" fill="#ff1c1c"/>
<rect x="121.30" y="401.96" width="3.91" height="8.32" fill="#ff1c1c"/>
<rect x="125.21" y="401.96" width="3.91" height="8.32" fill="#ff3939"/>
<rect x="129.12" y="401.96" width="3.91" height="8.32" fill="#ff0000"/>
<rect x="133.02" y="401.96" width="3.91" height="8.32" fill="#ff1c1c"/>
<rect x="136.93" y="401.96" width="3.91" height="8.32" fill="#ff1c1c"/>
<rect x="140.84" y="401.96" width="3.91" height="8.32" fill="#ff3939"/>
<rect x="144.75" y="401.96" width="3.91" height="8.32" fill="#ff5555"/>
<rect x="148.65" y="401.96" width="3.91" height="8.32" fill="#ff3939"/>
<rect x="152.56" y="401.96" width="3.91" height="8.32" fill="#ff5555"/>
<rect x="156.47" y="401.96" width="3.91" height="8.32" fill="#ff5555"/>
<rect x="160.37" y="401.96" width="3.91" height="8.32" fill="#ff3939"/>
<rect x="164.28" y="401.96" width="3.91" height="8.32" fill="#ff1c1c"/>
<rect x="168.19" y="401.96" width="3.91" height="8.32" fill="#ff3939"/>
<rect x="172.09" y="401.96" width="3.91" height="8.32" fill="#ff3939"/>
<rect x="176.00" y="401.96" width="3.91" height="8.32" fill="#ff3939"/>
<rect x="179.91" y="401.96" width="3.91" height="8.32" fill="#ff3939"/>
<rect x="183.81" y="401.96" width="3.91" height="8.32" fill="#ffc6c6"/>
<rect x="187.72" y="401.96" width="3.91" height="8.32" fill="#ffc6c6"/>
<rect x="191.63" y="401.96" width="3.91" height="8.32" fill="#ff7171"/>
<rect x="195.54" y="401.96" width="3.91" height="8.32" fill="#ff5555"/>
<rect x="199.44" y="401.96" width="3.91" height="8.32" fill="#ff7171"/>
<rect x="203.35" y="401.96" width="3.91" height="8.32" fill="#ff8e8e"/>
<rect x="207.26" y="401.96" width="3.91" height="8.32" fill="#ffaaaa"/>
<rect x="211.16" y="401.96" width="3.91" height="8.32" fill="#ffaaaa"/>
<rect x="215.07" y="401.96" width="3.91" height="8.32" fill="#ff5555"/>
<rect x="218.98" y="401.96" width="3.91" height="8.32" fill="#ffe3e3"/>
<rect x="222.88" y="401.96" width="3.91" height="8.32" fill="#ffc6c6"/>
<rect x="226.79" y="401.96" width="3.91" height="8.32" fill="#ffaaaa"/>
<rect x="230.70" y="401.96" width="3.91" height="8.32" fill="#ffaaaa"/>
<rect x="234.61" y="401.96" width="3.91" height="8.32" fill="#ff8e8e"/>
<rect x="238.51" y="401.96" width="3.91" height="8.32" fill="#ff8e8e"/>
<rect x="242.42" y="401.96" width="3.91" height="8.32" fill="#ff7171"/>
<rect x="246.33" y="401.96" width="3.91" height="8.32" fill="#ffaaaa"/>
<rect x="250.23" y="401.96" width="3.91" height="8.32" fill="#ff8e8e"/>
<rect x="254.14" y="401.96" width="3.91" height="8.32" fill="#ff8e8e"/>
<rect x="258.05" y="401.96" width="3.91" height="8.32" fill="#ff8e8e"/>
<rect x="261.96" y="401.96" width="3.91" height="8.32" fill="#ff8e8e"/>
<rect x="265.86" y="401.96" width="3.91" height="8.32" fill="#ff8e8e"/>
<rect x="269.77" y="401.96" width="3.91" height="8.32" fill="#ff7171"/>
<rect x="273.68" y="401.96" width="3.91" height="8.32" fill="#ff7171"/>
<rect x="277.58" y="401.96" width="3.91" height="8.32" fill="#ff7171"/>
<rect x="281.49" y="401.96" width="3.91" height="8.32" fill="#ff7171"/>
<rect x="285.40" y="401.96" width="3.91" height="8.32" fill="#ff7171"/>
<rect x="289.30" y="401.96" width="3.91" height="8.32" fill="#ff5555"/>
<rect x="293.21" y="401.96" width="3.91" height="8.32" fill="#ff5555"/>
<rect x="297.12" y="401.96" width="3.91" height="8.32" fill="#ff3939"/>
<rect x="301.02" y="401.96" width="3.91" height="8.32" fill="#ff1c1c"/>
<rect x="304.93" y="401.96" width="3.91" height="8.32" fill="#ff3939"/>
<rect x="308.84" y="401.96" width="3.91" height="8.32" fill="#ff5555"/>
<rect x="312.75" y="401.96" width="3.91" height="8.32" fill="#ff5555"/>
<rect x="316.65" y="401.96" width="3.91" height="8.32" fill="#ff5555"/>
<rect x="320.56" y="401.96" width="3.91" height="8.32" fill="#ff3939"/>
<rect x="324.47" y="401.96" width="3.91" height="8.32" fill="#ff3939"/>
<rect x="328.37" y="401.96" width="3.91" height="8.32" fill="#ff0000"/>
<rect x="332.28" y="401.96" width="3.91" height="8.32" fill="#ff0000"/>
<rect x="336.19" y="401.96" width="3.91" height="8.32" fill="#ff1c1c"/>
<rect x="340.10" y="401.96" width="3.91" height="8.32" fill="#ff3939"/>
<rect x="344.00" y="401.96" width="3.91" height="8.32" fill="#ff0000"/>
<rect x="347.91" y="401.96" width="3.91" height="8.32" fill="#ff0000"/>
<rect x="351.82" y="401.96" width="3.91" height="8.32" fill="#ff1c1c"/>
<rect x="355.72" y="401.96" width="3.91" height="8.32" fill="#ff0000"/>
<rect x="359.63" y="401.96" width="3.91" height="8.32" fill="#ff3939"/>
<rect x="363.54" y="401.96" width="3.91" height="8.32" fill="#ff3939"/>
<rect x="367.44" y="401.96" width="3.91" height="8.32" fill="#ff5555"/>
<rect x="371.35" y="401.96" width="3.91" height="8.32" fill="#ff3939"/>
<rect x="375.26" y="401.96" width="3.91" height="8.32" fill="#ff3939"/>
<rect x="379.17" y="401.96" width="3.91" height="8.32" fill="#ff3939"/>
<rect x="383.07" y="401.96" width="3.91" height="8.32" fill="#ff3939"/>
<rect x="386.98" y="401.96" width="3.91" height="8.32" fill="#ff3939"/>
<rect x="390.89" y="401.96" width="3.91" height="8.32" fill="#ff5555"/>
<rect x="394.79" y="401.96" width="3.91" height="8.32" fill="#ff5555"/>
<rect x="398.70" y="401.96" width="3.91" height="8.32" fill="#ff0000"/>
<rect x="402.61" y="401.96" width="3.91" height="8.32" fill="#ff0000"/>
<rect x="406.51" y="401.96" width="3.91" height="8.32" fill="#ff0000"/>
<rect x="410.42" y="401.96" width="3.91" height="8.32" fill="#ff0000"/>
<rect x="414.33" y="401.96" width="3.91" height="8.32" fill="#ff0000"/>
<rect x="418.24" y="401.96" width="3.91" height="8.32" fill="#ff0000"/>
<rect x="422.14" y="401.96" width="3.91" height="8.32" fill="#ff0000"/>
<rect x="426.05" y="401.96" width="3.91" height="8.32" fill="#ff1c1c"/>
<rect x="429.96" y="401.96" width="3.91" height="8.32" fill="#ff1c1c"/>
<rect x="433.86" y="401.96" width="3.91" height="8.32" fill="#ffaaaa"/>
<rect x="437.77" y="401.96" width="3.91" height="8.32" fill="#ffaaaa"/>
<rect x="441.68" y="401.96" width="3.91" height="8.32" fill="#ff7171"/>
<rect x="445.58" y="401.96" width="3.91" height="8.32" fill="#ff0000"/>
<rect x="449.49" y="401.96" width="3.91" height="8.32" fill="#ff0000"/>
<rect x="453.40" y="401.96" width="3.91" height="8.32" fill="#ff1c1c"/>
<rect x="457.31" y="401.96" width="3.91" height="8.32" fill="#ff1c1c"/>
<rect x="461.21" y="401.96" width="3.91" height="8.32" fill="#ff1c1c"/>
<rect x="465.12" y="401.96" width="3.91" height="8.32" fill="#ffc6c6"/>
<rect x="8.00" y="410.24" width="3.91" height="8.32" fill="#ff8e8e"/>
<rect x="11.91" y="410.24" width="3.91" height="8.32" fill="#ff8e8e"/>
<rect x="15.81" y="410.24" width="3.91" height="8.32" fill="#ff7171"/>
<rect x="19.72" y="410.24" width="3.91" height="8.32" fill="#ff8e8e"/>
<rect x="23.63" y="410.24" width="3.91" height="8.32" fill="#ff8e8e"/>
<rect x="27.54" y="410.24" width="3.91" height="8.32" fill="#ff8e8e"/>
<rect x="31.44" y="410.24" width="3.91" height="8.32" fill="#ff8e8e"/>
<rect x="35.35" y="410.24" width="3.91" height="8.32" fill="#ff7171"/>
<rect x="39.26" y="410.24" width="3.91" height="8.32" fill="#ff7171"/>
<rect x="43.16" y="410.24" width="3.91" height="8.32" fill="#ff7171"/>
<rect x="47.07" y="410.24" width="3.91" height="8.32" fill="#ff0000"/>
<rect x="50.98" y="410.24" width="3.91" height="8.32" fill="#ff0000"/>
<rect x="54.88" y="410.24" width="3.91" height="8.32" fill="#ff1c1c"/>
<rect x="58.79" y="410.24" width="3.91" height="8.32" fill="#ff3939"/>
<rect x="62.70" y="410.24" width="3.91" height="8.32" fill="#ff3939"/>
<rect x="66.61" y="410.24" width="3.91" height="8.32" fill="#ffaaaa"/>
<rect x="70.51" y="410.24" width="3.91" height="8.32" fill="#ffaaaa"/>
<rect x="74.42" y="410.24" width="3.91" height="8.32" fill="#ff8e8e"/>
<rect x="78.33" y="410.24" width="3.91" height="8.32" fill="#ffffff"/>
<rect x="82.23" y="410.24" width="3.91" height="8.32" fill="#ff7171"/>
<rect x="86.14" y="410.24" width="3.91" height="8.32" fill="#ffaaaa"/>
<rect x="90.05" y="410.24" width="3.91" height="8.32" fill="#ffc6c6"/>
<rect x="93.95" y="410.24" width="3.91" height="8.32" fill="#ffffff"/>
<rect x="97.86" y="410.24" width="3.91" height="8.32" fill="#ffffff"/>
<rect x="101.77" y="410.24" width="3.91" height="8.32" fill="#ffffff"/>
<rect x="105.67" y="410.24" width="3.91" height="8.32" fill="#ffffff"/>
<rect x="109.58" y="410.24" width="3.91" height="8.32" fill="#ffe3e3"/>
<rect x="113.49" y="410.24" width="3.91" height="8.32" fill="#ffe3e3"/>
<rect x="117.40" y="410.24" width="3.91" height="8.32" fill="#ffe3e3"/>
<rect x="121.30" y="410.24" width="3.91" height="8.32" fill="#ffffff"/>
<rect x="125.21" y="410.24" width="3.91" height="8.32" fill="#ffffff"/>
<rect x="129.12" y="410.24" width="3.91" height="8.32" fill="#ffe3e3"/>
<rect x="133.02" y="410.24" width="3.91" height="8.32" fill="#ffc6c6"/>
<rect x="136.93" y="410.24" width="3.91" height="8.32" fill="#ffe3e3"/>
<rect x="140.84" y="410.24" width="3.91" height="8.32" fill="#ffc6c6"/>
<rect x="144.75" y="410.24" width="3.91" height="8.32" fill="#ffc6c6"/>
<rect x="148.65" y="410.24" width="3.91" height="8.32" fill="#ffc6c6"/>
<rect x="152.56" y="410.24" width="3.91" height="8.32" fill="#ffe3e3"/>
<rect x="156.47" y="410.24" width="3.91" height="8.32" fill="#ffffff"/>
<rect x="160.37" y="410.24" width="3.91" height="8.32" fill="#ffe3e3"/>
<rect x="164.28" y="410.24" width="3.91" height="8.32" fill="#ffc6c6"/>
<rect x="168.19" y="410.24" width="3.91" height="8.32" fill="#ffc6c6"/>
<rect x="172.09" y="410.24" width="3.91" height="8.32" fill="#ffffff"/>
<rect x="176.00" y="410.24" width="3.91" height="8.32" fill="#ff8e8e"/>
<rect x="179.91" y="410.24" width="3.91" height="8.32" fill="#ffaaaa"/>
<rect x="183.81" y="410.24" width="3.91" height="8.32" fill="#ffc6c6"/>
<rect x="187.72" y="410.24" width="3.91" height="8.32" fill="#ffc6c6"/>
<rect x="191.63" y="410.24" width="3.91" height="8.32" fill="#ffaaaa"/>
<rect x="195.54" y="410.24" width="3.91" height="8.32" fill="#ffaaaa"/>
<rect x="199.44" y="410.24" width="3.91" height="8.32" fill="#ff0000"/>
<rect x="203.35" y="410.24" width="3.91" height="8.32" fill="#ff1c1c"/>
<rect x="207.26" y="410.24" width="3.91" height="8.32" fill="#ff1c1c"/>
<rect x="211.16" y="410.24" width="3.91" height="8.32" fill="#ff0000"/>
<rect x="215.07" y="410.24" width="3.91" height="8.32" fill="#ff0000"/>
<rect x="218.98" y="410.24" width="3.91" height="8.32" fill="#ff1c1c"/>
<rect x="222.88" y="410.24" width="3.91" height="8.32" fill="#ff0000"/>
<rect x="226.79" y="410.24" width="3.91" height="8.32" fill="#ff0000"/>
<rect x="230.70" y="410.24" width="3.91" height="8.32" fill="#ff1c1c"/>
<rect x="234.61" y="410.24" width="3.91" height="8.32" fill="#ff0000"/>
<rect x="238.51" y="410.24" width="3.91" height="8.32" fill="#ff1c1c"/>
<rect x="242.42" y="410.24" width="3.91" height="8.32" fill="#ff0000"/>
<rect x="246.33" y="410.24" width="3.91" height="8.32" fill="#ff1c1c"/>
<rect x="250.23" y="410.24" width="3.91" height="8.32" fill="#ff3939"/>
<rect x="254.14" y="410.24" width="3.91" height="8.32" fill="#ff3939"/>
<rect x="258.05" y="410.24" width="3.91" height="8.32" fill="#ff5555"/>
<rect x="261.96" y="410.24" width="3.91" height="8.32" fill="#ff5555"/>
<rect x="265.86" y="410.24" width="3.91" height="8.32" fill="#ff5555"/>
<rect x="269.77" y="410.24" width="3.91" height="8.32" fill="#ff3939"/>
<rect x="273.68" y="410.24" width="3.91" height="8.32" fill="#ff3939"/>
<rect x="277.58" y="410.24" width="3.91" height="8.32" fill="#ff0000"/>
<rect x="281.49" y="410.24" width="3.91" height="8.32" fill="#ff1c1c"/>
<rect x="285.40" y="410.24" width="3.91" height="8.32" fill="#ff3939"/>
<rect x="289.30" y="410.24" width="3.91" height="8.32" fill="#ff3939"/>
<rect x="293.21" y="410.24" width="3.91" height="8.32" fill="#ff3939"/>
<rect x="297.12" y="410.24" width="3.91" height="8.32" fill="#ff7171"/>
<rect x="301.02" y="410.24" width="3.91" height="8.32" fill="#ff0000"/>
<rect x="304.93" y="410.24" width="3.91" height="8.32" fill="#ff0000"/>
<rect x="308.84" y="410.24" width="3.91" height="8.32" fill="#ff1c1c"/>
<rect x="312.75" y="410.24" width="3.91" height="8.32" fill="#ff1c1c"/>
<rect x="316.65" y="410.24" width="3.91" height="8.32" fill="#ff1c1c"/>
<rect x="320.56" y="410.24" width="3.91" height="8.32" fill="#ff3939"/>
<rect x="324.47" y="410.24" width="3.91" height="8.32" fill="#ff3939"/>
<rect x="328.37" y="410.24" width="3.91" height="8.32" fill="#ff0000"/>
<rect x="332.28" y="410.24" width="3.91" height="8.32" fill="#ff1c1c"/>
<rect x="336.19" y="410.24" width="3.91" height="8.32" fill="#ff1c1c"/>
<rect x="340.10" y="410.24" width="3.91" height="8.32" fill="#ff0000"/>
<rect x="344.00" y="410.24" width="3.91" height="8.32" fill="#ff1c1c"/>
<rect x="347.91" y="410.24" width="3.91" height="8.32" fill="#ff3939"/>
<rect x="351.82" y="410.24" width="3.91" height="8.32" fill="#ff0000"/>
<rect x="355.72" y="410.24" width="3.91" height="8.32" fill="#ff5555"/>
<rect x="359.63" y="410.24" width="3.91" height="8.32" fill="#ff8e8e"/>
<rect x="363.54" y="410.24" width="3.91" height="8.32" fill="#ff7171"/>
<rect x="367.44" y="410.24" width="3.91" height="8.32" fill="#ff5555"/>
<rect x="371.35" y="410.24" width="3.91" height="8.32" fill="#ff5555"/>
<rect x="375.26" y="410.24" width="3.91" height="8.32" fill="#ff5555"/>
<rect x="379.17" y="410.24" width="3.91" height="8.32" fill="#ff5555"/>
<rect x="383.07" y="410.24" width="3.91" height="8.32" fill="#ff5555"/>
<rect x="386.98" y="410.24" width="3.91" height="8.32" fill="#ff8e8e"/>
<rect x="390.89" y="410.24" width="3.91" height="8.32" fill="#ff8e8e"/>
<rect x="394.79" y="410.24" width="3.91" height="8.32" fill="#ff7171"/>
<rect x="398.70" y="410.24" width="3.91" height="8.32" fill="#ff5555"/>
<rect x="402.61" y="410.24" width="3.91" height="8.32" fill="#ff5555"/>
<rect x="406.51" y="410.24" width="3.91" height="8.32" fill="#ff3939"/>
<rect x="410.42" y="410.24" width="3.91" height="8.32" fill="#ff1c1c"/>
<rect x="414.33" y="410.24" width="3.91" height="8.32" fill="#ffc6c6"/>
<rect x="418.24" y="410.24" width="3.91" height="8.32" fill="#ffe3e3"/>
<rect x="422.14" y="410.24" width="3.91" height="8.32" fill="#ffe3e3"/>
<rect x="426.05" y="410.24" width="3.91" height="8.32" fill="#ffaaaa"/>
<rect x="429.96" y="410.24" width="3.91" height="8.32" fill="#ffaaaa"/>
<rect x="433.86" y="410.24" width="3.91" height="8.32" fill="#ff0000"/>
<rect x="437.77" y="410.24" width="3.91" height="8.32" fill="#ff0000"/>
<rect x="441.68" y="410.24" width="3.91" height="8.32" fill="#ff0000"/>
<rect x="445.58" y="410.24" width="3.91" height="8.32" fill="#ff0000"/>
<rect x="449.49" y="410.24" width="3.91" height="8.32" fill="#ff8e8e"/>
<rect x="453.40" y="410.24" width="3.91" height="8.32" fill="#ff7171"/>
<rect x="457.31" y="410.24" width="3.91" height="8.32" fill="#ff0000"/>
<rect x="461.21" y="410.24" width="3.91" height="8.32" fill="#ff0000"/>
<rect x="465.12" y="410.24" width="3.91" height="8.32" fill="#ff7171"/>
<rect x="8.00" y="418.52" width="3.91" height="8.32" fill="#0000ff"/>
<rect x="11.91" y="418.52" width="3.91" height="8.32" fill="#0000ff"/>
<rect x="15.81" y="418.52" width="3.91" height="8.32" fill="#0000ff"/>
<rect x="19.72" y="418.52" width="3.91" height="8.32" fill="#0000ff"/>
<rect x="23.63" y="418.52" width="3.91" height="8.32" fill="#0000ff"/>
<rect x="27.54" y="418.52" width="3.91" height="8.32" fill="#0000ff"/>
<rect x="31.44" y="418.52" width="3.91" height="8.32" fill="#0000ff"/>
<rect x="35.35" y="418.52" width="3.91" height="8.32" fill="#0000ff"/>
<rect x="39.26" y="418.52" width="3.91" height="8.32" fill="#0000ff"/>
<rect x="43.16" y="418.52" width="3.91" height="8.32" fill="#0000ff"/>
<rect x="47.07" y="418.52" width="3.91" height="8.32" fill="#0000ff"/>
<rect x="50.98" y="418.52" width="3.91" height="8.32" fill="#0000ff"/>
<rect x="54.88" y="418.52" width="3.91" height="8.32" fill="#0000ff"/>
<rect x="58.79" y="418.52" width="3.91" height="8.32" fill="#0000ff"/>
<rect x="62.70" y="418.52" width="3.91" height="8.32" fill="#0000ff"/>
<rect x="66.61" y="418.52" width="3.91" height="8.32" fill="#0000ff"/>
<rect x="70.51" y="418.52" width="3.91" height="8.32" fill="#0000ff"/>
<rect x="74.42" y="418.52" width="3.91" height="8.32" fill="#0000ff"/>
<rect x="78.33" y="418.52" width="3.91" height="8.32" fill="#0000ff"/>
<rect x="82.23" y="418.52" width="3.91" height="8.32" fill="#0000ff"/>
<rect x="86.14" y="418.52" width="3.91" height="8.32" fill="#0000ff"/>
<rect x="90.05" y="418.52" width="3.91" height="8.32" fill="#1c1cff"/>
<rect x="93.95" y="418.52" width="3.91" height="8.32" fill="#1c1cff"/>
<rect x="97.86" y="418.52" width="3.91" height="8.32" fill="#1c1cff"/>
<rect x="101.77" y="418.52" width="3.91" height="8.32" fill="#1c1cff"/>
<rect x="105.67" y="418.52" width="3.91" height="8.32" fill="#1c1cff"/>
<rect x="109.58" y="418.52" width="3.91" height="8.32" fill="#1c1cff"/>
<rect x="113.49" y="418.52" width="3.91" height="8.32" fill="#1c1cff"/>
<rect x="117.40" y="418.52" width="3.91" height="8.32" fill="#1c1cff"/>
<rect x="121.30" y="418.52" width="3.91" height="8.32" fill="#1c1cff"/>
<rect x="125.21" y="418.52" width="3.91" height="8.32" fill="#1c1cff"/>
<rect x="129.12" y="418.52" width="3.91" height="8.32" fill="#0000ff"/>
<rect x="133.02" y="418.52" width="3.91" height="8.32" fill="#0000ff"/>
<rect x="136.93" y="418.52" width="3.91" height="8.32" fill="#0000ff"/>
<rect x="140.84" y="418.52" width="3.91" height="8.32" fill="#0000ff"/>
<rect x="144.75" y="418.52" width="3.91" height="8.32" fill="#0000ff"/>
<rect x="148.65" y="418.52" width="3.91" height="8.32" fill="#0000ff"/>
<rect x="152.56" y="418.52" width="3.91" height="8.32" fill="#0000ff"/>
<rect x="156.47" y="418.52" width="3.91" height="8.32" fill="#0000ff"/>
<rect x="160.37" y="418.52" width="3.91" height="8.32" fill="#0000ff"/>
<rect x="164.28" y="418.52" width="3.91" height="8.32" fill="#1c1cff"/>
<rect x="168.19" y="418.52" width="3.91" height="8.32" fill="#1c1cff"/>
<rect x="172.09" y="418.52" width="3.91" height="8.32" fill="#1c1cff"/>
<rect x="176.00" y="418.52" width="3.91" height="8.32" fill="#7171ff"/>
<rect x="179.91" y="418.52" width="3.91" height="8.32" fill="#5555ff"/>
<rect x="183.81" y="418.52" width="3.91" height="8.32" fill="#0000ff"/>
<rect x="187.72" y="418.52" width="3.91" height="8.32" fill="#0000ff"/>
<rect x="191.63" y="418.52" width="3.91" height="8.32" fill="#0000ff"/>
<rect x="195.54" y="418.52" width="3.91" height="8.32" fill="#0000ff"/>
<rect x="199.44" y="418.52" width="3.91" height="8.32" fill="#0000ff"/>
<rect x="203.35" y="418.52" width="3.91" height="8.32" fill="#0000ff"/>
<rect x="207.26" y="418.52" width="3.91" height="8.32" fill="#0000ff"/>
<rect x="211.16" y="418.52" width="3.91" height="8.32" fill="#0000ff"/>
<rect x="215.07" y="418.52" width="3.91" height="8.32" fill="#0000ff"/>
<rect x="218.98" y="418.52" width="3.91" height="8.32" fill="#0000ff"/>
<rect x="222.88" y="418.52" width="3.91" height="8.32" fill="#0000ff"/>
<rect x="226.79" y="418.52" width="3.91" height="8.32" fill="#0000ff"/>
<rect x="230.70" y="418.52" width="3.91" height="8.32" fill="#0000ff"/>
<rect x="234.61" y="418.52" width="3.91" height="8.32" fill="#0000ff"/>
<rect x="238.51" y="418.52" width="3.91" height="8.32" fill="#0000ff"/>
<rect x="242.42" y="418.52" width="3.91" height="8.32" fill="#3939ff"/>
<rect x="246.33" y="418.52" width="3.91" height="8.32" fill="#0000ff"/>
<rect x="250.23" y="418.52" width="3.91" height="8.32" fill="#0000ff"/>
<rect x="254.14" y="418.52" width="3.91" height="8.32" fill="#0000ff"/>
<rect x="258.05" y="418.52" width="3.91" height="8.32" fill="#0000ff"/>
<rect x="261.96" y="418.52" width="3.91" height="8.32" fill="#0000ff"/>
<rect x="265.86" y="418.52" width="3.91" height="8.32" fill="#0000ff"/>
<rect x="269.77" y="418.52" width="3.91" height="8.32" fill="#0000ff"/>
<rect x="273.68" y="418.52" width="3.91" height="8.32" fill="#7171ff"/>
<rect x="277.58" y="418.52" width="3.91" height="8.32" fill="#7171ff"/>
<rect x="281.49" y="418.52" width="3.91" height="8.32" fill="#8e8eff"/>
<rect x="285.40" y="418.52" width="3.91" height="8.32" fill="#8e8eff"/>
<rect x="289.30" y="418.52" width="3.91" height="8.32" fill="#aaaaff"/>
<rect x="293.21" y="418.52" width="3.91" height="8.32" fill="#c6c6ff"/>
<rect x="297.12" y="418.52" width="3.91" height="8.32" fill="#aaaaff"/>
<rect x="301.02" y="418.52" width="3.91" height="8.32" fill="#e3e3ff"/>
<rect x="304.93" y="418.52" width="3.91" height="8.32" fill="#e3e3ff"/>
<rect x="308.84" y="418.52" width="3.91" height="8.32" fill="#8e8eff"/>
<rect x="312.75" y="418.52" width="3.91" height="8.32" fill="#8e8eff"/>
<rect x="316.65" y="418.52" width="3.91" height="8.32" fill="#8e8eff"/>
<rect x="320.56" y="418.52" width="3.91" height="8.32" fill="#8e8eff"/>
<rect x="324.47" y="418.52" width="3.91" height="8.32" fill="#aaaaff"/>
<rect x="328.37" y="418.52" width="3.91" height="8.32" fill="#0000ff"/>
<rect x="332.28" y="418.52" width="3.91" height="8.32" fill="#1c1cff"/>
<rect x="336.19" y="418.52" width="3.91" height="8.32" fill="#1c1cff"/>
<rect x="340.10" y="418.52" width="3.91" height="8.32" fill="#0000ff"/>
<rect x="344.00" y="418.52" width="3.91" height="8.32" fill="#1c1cff"/>
<rect x="347.91" y="418.52" width="3.91" height="8.32" fill="#1c1cff"/>
<rect x="351.82" y="418.52" width="3.91" height="8.32" fill="#1c1cff"/>
<rect x="355.72" y="418.52" width="3.91" height="8.32" fill="#1c1cff"/>
<rect x="359.63" y="418.52" width="3.91" height="8.32" fill="#7171ff"/>
<rect x="363.54" y="418.52" width="3.91" height="8.32" fill="#3939ff"/>
<rect x="367.44" y="418.52" width="3.91" height="8.32" fill="#3939ff"/>
<rect x="371.35" y="418.52" width="3.91" height="8.32" fill="#c6c6ff"/>
<rect x="375.26" y="418.52" width="3.91" height="8.32" fill="#7171ff"/>
<rect x="379.17" y="418.52" width="3.91" height="8.32" fill="#5555ff"/>
<rect x="383.07" y="418.52" width="3.91" height="8.32" fill="#1c1cff"/>
<rect x="386.98" y="418.52" width="3.91" height="8.32" fill="#3939ff"/>
<rect x="390.89" y="418.52" width="3.91" height="8.32" fill="#7171ff"/>
<rect x="394.79" y="418.52" width="3.91" height="8.32" fill="#1c1cff"/>
<rect x="398.70" y="418.52" width="3.91" height="8.32" fill="#aaaaff"/>
<rect x="402.61" y="418.52" width="3.91" height="8.32" fill="#c6c6ff"/>
<rect x="406.51" y="418.52" width="3.91" height="8.32" fill="#aaaaff"/>
<rect x="410.42" y="418.52" width="3.91" height="8.32" fill="#e3e3ff"/>
<rect x="414.33" y="418.52" width="3.91" height="8.32" fill="#5555ff"/>
<rect x="418.24" y="418.52" width="3.91" height="8.32" fill="#3939ff"/>
<rect x="422.14" y="418.52" width="3.91" height="8.32" fill="#1c1cff"/>
<rect x="426.05" y="418.52" width="3.91" height="8.32" fill="#5555ff"/>
<rect x="429.96" y="418.52" width="3.91" height="8.32" fill="#3939ff"/>
<rect x="433.86" y="418.52" width="3.91" height="8.32" fill="#0000ff"/>
<rect x="437.77" y="418.52" width="3.91" height="8.32" fill="#0000ff"/>
<rect x="441.68" y="418.52" width="3.91" height="8.32" fill="#0000ff"/>
<rect x="445.58" y="418.52" width="3.91" height="8.32" fill="#0000ff"/>
<rect x="449.49" y="418.52" width="3.91" height="8.32" fill="#5555ff"/>
<rect x="453.40" y="418.52" width="3.91" height="8.32" fill="#5555ff"/>
<rect x="457.31" y="418.52" width="3.91" height="8.32" fill="#0000ff"/>
<rect x="461.21" y="418.52" width="3.91" height="8.32" fill="#0000ff"/>
<rect x="465.12" y="418.52" width="3.91" height="8.32" fill="#0000ff"/>
<rect x="8.00" y="426.80" width="3.91" height="8.32" fill="#aaaaff"/>
<rect x="11.91" y="426.80" width="3.91" height="8.32" fill="#8e8eff"/>
<rect x="15.81" y="426.80" width="3.91" height="8.32" fill="#1c1cff"/>
<rect x="19.72" y="426.80" width="3.91" height="8.32" fill="#3939ff"/>
<rect x="23.63" y="426.80" width="3.91" height="8.32" fill="#5555ff"/>
<rect x="27.54" y="426.80" width="3.91" height="8.32" fill="#3939ff"/>
<rect x="31.44" y="426.80" width="3.91" height="8.32" fill="#aaaaff"/>
<rect x="35.35" y="426.80" width="3.91" height="8.32" fill="#8e8eff"/>
<rect x="39.26" y="426.80" width="3.91" height="8.32" fill="#5555ff"/>
<rect x="43.16" y="426.80" width="3.91" height="8.32" fill="#7171ff"/>
<rect x="47.07" y="426.80" width="3.91" height="8.32" fill="#c6c6ff"/>
<rect x="50.98" y="426.80" width="3.91" height="8.32" fill="#c6c6ff"/>
<rect x="54.88" y="426.80" width="3.91" height="8.32" fill="#aaaaff"/>
<rect x="58.79" y="426.80" width="3.91" height="8.32" fill="#8e8eff"/>
<rect x="62.70" y="426.80" width="3.91" height="8.32" fill="#8e8eff"/>
<rect x="66.61" y="426.80" width="3.91" height="8.32" fill="#1c1cff"/>
<rect x="70.51" y="426.80" width="3.91" height="8.32" fill="#1c1cff"/>
<rect x="74.42" y="426.80" width="3.91" height="8.32" fill="#1c1cff"/>
<rect x="78.33" y="426.80" width="3.91" height="8.32" fill="#0000ff"/>
<rect x="82.23" y="426.80" width="3.91" height="8.32" fill="#8e8eff"/>
<rect x="86.14" y="426.80" width="3.91" height="8.32" fill="#5555ff"/>
<rect x="90.05" y="426.80" width="3.91" height="8.32" fill="#0000ff"/>
<rect x="93.95" y="426.80" width="3.91" height="8.32" fill="#0000ff"/>
<rect x="97.86" y="426.80" width="3.91" height="8.32" fill="#0000ff"/>
<rect x="101.77" y="426.80" width="3.91" height="8.32" fill="#0000ff"/>
<rect x="105.67" y="426.80" width="3.91" height="8.32" fill="#0000ff"/>
<rect x="109.58" y="426.80" width="3.91" height="8.32" fill="#0000ff"/>
<rect x="113.49" y="426.80" width="3.91" height="8.32" fill="#0000ff"/>
<rect x="117.40" y="426.80" width="3.91" height="8.32" fill="#0000ff"/>
<rect x="121.30" y="426.80" width="3.91" height="8.32" fill="#0000ff"/>
<rect x="125.21" y="426.80" width="3.91" height="8.32" fill="#0000ff"/>
<rect x="129.12" y="426.80" width="3.91" height="8.32" fill="#1c1cff"/>
<rect x="133.02" y="426.80" width="3.91" height="8.32" fill="#0000ff"/>
<rect x="136.93" y="426.80" width="3.91" height="8.32" fill="#0000ff"/>
<rect x="140.84" y="426.80" width="3.91" height="8.32" fill="#0000ff"/>
<rect x="144.75" y="426.80" width="3.91" height="8.32" fill="#0000ff"/>
<rect x="148.65" y="426.80" width="3.91" height="8.32" fill="#1c1cff"/>
<rect x="152.56" y="426.80" width="3.91" height="8.32" fill="#3939ff"/>
<rect x="156.47" y="426.80" width="3.91" height="8.32" fill="#5555ff"/>
<rect x="160.37" y="426.80" width="3.91" height="8.32" fill="#5555ff"/>
<rect x="164.28" y="426.80" width="3.91" height="8.32" fill="#0000ff"/>
<rect x="168.19" y="426.80" width="3.91" height="8.32" fill="#0000ff"/>
<rect x="172.09" y="426.80" width="3.91" height="8.32" fill="#0000ff"/>
<rect x="176.00" y="426.80" width="3.91" height="8.32" fill="#0000ff"/>
<rect x="179.91" y="426.80" width="3.91" height="8.32" fill="#0000ff"/>
<rect x="183.81" y="426.80" width="3.91" height="8.32" fill="#1c1cff"/>
<rect x="187.72" y="426.80" width="3.91" height="8.32" fill="#3939ff"/>
<rect x="191.63" y="426.80" width="3.91" height="8.32" fill="#3939ff"/>
<rect x="195.54" y="426.80" width="3.91" height="8.32" fill="#0000ff"/>
<rect x="199.44" y="426.80" width="3.91" height="8.32" fill="#aaaaff"/>
<rect x="203.35" y="426.80" width="3.91" height="8.32" fill="#aaaaff"/>
<rect x="207.26" y="426.80" width="3.91" height="8.32" fill="#0000ff"/>
<rect x="211.16" y="426.80" width="3.91" height="8.32" fill="#0000ff"/>
<rect x="215.07" y="426.80" width="3.91" height="8.32" fill="#0000ff"/>
<rect x="218.98" y="426.80" width="3.91" height="8.32" fill="#0000ff"/>
<rect x="222.88" y="426.80" width="3.91" height="8.32" fill="#0000ff"/>
<rect x="226.79" y="426.80" width="3.91" height="8.32" fill="#0000ff"/>
<rect x="230.70" y="426.80" width="3.91" height="8.32" fill="#0000ff"/>
<rect x="234.61" y="426.80" width="3.91" height="8.32" fill="#0000ff"/>
<rect x="238.51" y="426.80" width="3.91" height="8.32" fill="#0000ff"/>
<rect x="242.42" y="426.80" width="3.91" height="8.32" fill="#1c1cff"/>
<rect x="246.33" y="426.80" width="3.91" height="8.32" fill="#3939ff"/>
<rect x="250.23" y="426.80" width="3.91" height="8.32" fill="#0000ff"/>
<rect x="254.14" y="426.80" width="3.91" height="8.32" fill="#0000ff"/>
<rect x="258.05" y="426.80" width="3.91" height="8.32" fill="#0000ff"/>
<rect x="261.96" y="426.80" width="3.91" height="8.32" fill="#0000ff"/>
<rect x="265.86" y="426.80" width="3.91" height="8.32" fill="#0000ff"/>
<rect x="269.77" y="426.80" width="3.91" height="8.32" fill="#0000ff"/>
<rect x="273.68" y="426.80" width="3.91" height="8.32" fill="#0000ff"/>
<rect x="277.58" y="426.80" width="3.91" height="8.32" fill="#0000ff"/>
<rect x="281.49" y="426.80" width="3.91" height="8.32" fill="#0000ff"/>
<rect x="285.40" y="426.80" width="3.91" height="8.32" fill="#0000ff"/>
<rect x="289.30" y="426.80" width="3.91" height="8.32" fill="#0000ff"/>
<rect x="293.21" y="426.80" width="3.91" height="8.32" fill="#0000ff"/>
<rect x="297.12" y="426.80" width="3.91" height="8.32" fill="#0000ff"/>
<rect x="301.02" y="426.80" width="3.91" height="8.32" fill="#0000ff"/>
<rect x="304.93" y="426.80" width="3.91" height="8.32" fill="#0000ff"/>
<rect x="308.84" y="426.80" width="3.91" height="8.32" fill="#0000ff"/>
<rect x="312.75" y="426.80" width="3.91" height="8.32" fill="#0000ff"/>
<rect x="316.65" y="426.80" width="3.91" height="8.32" fill="#0000ff"/>
<rect x="320.56" y="426.80" width="3.91" height="8.32" fill="#0000ff"/>
<rect x="324.47" y="426.80" width="3.91" height="8.32" fill="#0000ff"/>
<rect x="328.37" y="426.80" width="3.91" height="8.32" fill="#0000ff"/>
<rect x="332.28" y="426.80" width="3.91" height="8.32" fill="#0000ff"/>
<rect x="336.19" y="426.80" width="3.91" height="8.32" fill="#0000ff"/>
<rect x="340.10" y="426.80" width="3.91" height="8.32" fill="#0000ff"/>
<rect x="344.00" y="426.80" width="3.91" height="8.32" fill="#0000ff"/>
<rect x="347.91" y="426.80" width="3.91" height="8.32" fill="#0000ff"/>
<rect x="351.82" y="426.80" width="3.91" height="8.32" fill="#0000ff"/>
<rect x="355.72" y="426.80" width="3.91" height="8.32" fill="#0000ff"/>
<rect x="359.63" y="426.80" width="3.91" height="8.32" fill="#0000ff"/>
<rect x="363.54" y="426.80" width="3.91" height="8.32" fill="#0000ff"/>
<rect x="367.44" y="426.80" width="3.91" height="8.32" fill="#0000ff"/>
<rect x="371.35" y="426.80" width="3.91" height="8.32" fill="#0000ff"/>
<rect x="375.26" y="426.80" width="3.91" height="8.32" fill="#0000ff"/>
<rect x="379.17" y="426.80" width="3.91" height="8.32" fill="#0000ff"/>
<rect x="383.07" y="426.80" width="3.91" height="8.32" fill="#0000ff"/>
<rect x="386.98" y="426.80" width="3.91" height="8.32" fill="#0000ff"/>
<rect x="390.89" y="426.80" width="3.91" height="8.32" fill="#0000ff"/>
<rect x="394.79" y="426.80" width="3.91" height="8.32" fill="#0000ff"/>
<rect x="398.70" y="426.80" width="3.91" height="8.32" fill="#0000ff"/>
<rect x="402.61" y="426.80" width="3.91" height="8.32" fill="#0000ff"/>
<rect x="406.51" y="426.80" width="3.91" height="8.32" fill="#0000ff"/>
<rect x="410.42" y="426.80" width="3.91" height="8.32" fill="#0000ff"/>
<rect x="414.33" y="426.80" width="3.91" height="8.32" fill="#0000ff"/>
<rect x="418.24" y="426.80" width="3.91" height="8.32" fill="#0000ff"/>
<rect x="422.14" y="426.80" width="3.91" height="8.32" fill="#0000ff"/>
<rect x="426.05" y="426.80" width="3.91" height="8.32" fill="#0000ff"/>
<rect x="429.96" y="426.80" width="3.91" height="8.32" fill="#0000ff"/>
<rect x="433.86" y="426.80" width="3.91" height="8.32" fill="#0000ff"/>
<rect x="437.77" y="426.80" width="3.91" height="8.32" fill="#1c1cff"/>
<rect x="441.68" y="426.80" width="3.91" height="8.32" fill="#3939ff"/>
<rect x="445.58" y="426.80" width="3.91" height="8.32" fill="#3939ff"/>
<rect x="449.49" y="426.80" width="3.91" height="8.32" fill="#0000ff"/>
<rect x="453.40" y="426.80" width="3.91" height="8.32" fill="#0000ff"/>
<rect x="457.31" y="426.80" width="3.91" height="8.32" fill="#7171ff"/>
<rect x="461.21" y="426.80" width="3.91" height="8.32" fill="#8e8eff"/>
<rect x="465.12" y="426.80" width="3.91" height="8.32" fill="#0000ff"/>
</g>
<text x="472.00" y="391.34" font-size="5" fill="#111">R21</text>
<text x="472.00" y="399.62" font-size="5" fill="#111">R34</text>
<text x="472.00" y="407.90" font-size="5" fill="#111">C34</text>
<text x="472.00" y="416.18" font-size="5" fill="#111">R27</text>
<text x="472.00" y="424.46" font-size="5" fill="#111">C21</text>
<text x="472.00" y="432.74" font-size="5" fill="#111">C27</text>
<polyline points="483.0,389.0 492.7,389.0 492.7,397.5 483.0,397.5" fill="none" stroke="#333" stroke-width="0.8"/>
<polyline points="492.7,392.6 501.5,392.6 501.5,405.7 483.0,405.7" fill="none" stroke="#333" stroke-width="0.8"/>
<polyline points="483.0,413.8 501.5,413.8 501.5,426.2 492.7,426.2" fill="none" stroke="#333" stroke-width="0.8"/>
<polyline points="483.0,422.4 492.7,422.4 492.7,430.8 483.0,430.8" fill="none" stroke="#333" stroke-width="0.8"/>
<polyline points="501.5,398.6 513.7,398.6 513.7,420.1 501.5,420.1" fill="none" stroke="#333" stroke-width="0.8"/>
<g font-size="3.9">
<text transform="translate(8.10 436.7) rotate(90)" fill="#000" stroke="#000" stroke-width="0.1">CELSR3</text>
<text transform="translate(12.01 436.7) rotate(90)" fill="#000" stroke="#000" stroke-width="0.1">SULF2</text>
<text transform="translate(15.92 436.7) rotate(90)" fill="#000" stroke="#000" stroke-width="0.1">KLF4</text>
<text transform="translate(19.82 436.7) rotate(90)" fill="#000" stroke="#000" stroke-width="0.1">DUOX1</text>
<text transform="translate(23.73 436.7) rotate(90)" fill="#000" stroke="#000" stroke-width="0.1">DOK5</text>
<text transform="translate(27.64 436.7) rotate(90)" fill="#000" stroke="#000" stroke-width="0.1">CENPI</text>
<text transform="translate(31.55 436.7) rotate(90)" fill="#000" stroke="#000" stroke-width="0.1">WSB2</text>
<text transform="translate(35.45 436.7) rotate(90)" fill="#000" stroke="#000" stroke-width="0.1">SLC44A3</text>
<text transform="translate(39.36 436.7) rotate(90)" fill="#c8193c" stroke="#c8193c" stroke-width="0.1">AASS</text>
<line x1="44.50" y1="436.40" x2="44.50" y2="454.20" stroke="#3565c8" stroke-width="0.8"/>
<text transform="translate(47.17 436.7) rotate(90)" fill="#000" stroke="#000" stroke-width="0.1">CHN2</text>
<text transform="translate(51.08 436.7) rotate(90)" fill="#000" stroke="#000" stroke-width="0.1">TRIM8</text>
<text transform="translate(54.99 436.7) rotate(90)" fill="#000" stroke="#000" stroke-width="0.1">KIF18A</text>
<text transform="translate(58.89 436.7) rotate(90)" fill="#000" stroke="#000" stroke-width="0.1">C5</text>
<text transform="translate(62.80 436.7) rotate(90)" fill="#000" stroke="#000" stroke-width="0.1">VPS37C</text>
<text transform="translate(66.71 436.7) rotate(90)" fill="#000" stroke="#000" stroke-width="0.1">MSH5</text>
<text transform="translate(70.62 436.7) rotate(90)" fill="#000" stroke="#000" stroke-width="0.1">WIPI1</text>
<text transform="translate(74.52 436.7) rotate(90)" fill="#000" stroke="#000" stroke-width="0.1">FRAS1</text>
<text transform="translate(78.43 436.7) rotate(90)" fill="#000" stroke="#000" stroke-width="0.1">FAM129B</text>
<text transform="translate(82.34 436.7) rotate(90)" fill="#000" stroke="#000" stroke-width="0.1">BAG3</text>
<text transform="translate(86.24 436.7) rotate(90)" fill="#000" stroke="#000" stroke-width="0.1">FOXJ2</text>
<text transform="translate(90.15 436.7) rotate(90)" fill="#000" stroke="#000" stroke-width="0.1">PINK1</text>
<text transform="translate(94.06 436.7) rotate(90)" fill="#000" stroke="#000" stroke-width="0.1">PACS1</text>
<text transform="translate(97.96 436.7) rotate(90)" fill="#000" stroke="#000" stroke-width="0.1">SVIL</text>
<text transform="translate(101.87 436.7) rotate(90)" fill="#c8193c" stroke="#c8193c" stroke-width="0.1">PRTFDC1</text>
<text transform="translate(105.78 436.7) rotate(90)" fill="#c8193c" stroke="#c8193c" stroke-width="0.1">RAD51AP1</text>
<text transform="translate(109.69 436.7) rotate(90)" fill="#c8193c" stroke="#c8193c" stroke-width="0.1">CLSTN3</text>
<text transform="translate(113.59 436.7) rotate(90)" fill="#c8193c" stroke="#c8193c" stroke-width="0.1">CASP7</text>
<text transform="translate(117.50 436.7) rotate(90)" fill="#000" stroke="#000" stroke-width="0.1">ZCCHC18</text>
<text transform="translate(121.41 436.7) rotate(90)" fill="#000" stroke="#000" stroke-width="0.1">YAF2</text>
<text transform="translate(125.31 436.7) rotate(90)" fill="#000" stroke="#000" stroke-width="0.1">CYP4</text>
<text transform="translate(129.22 436.7) rotate(90)" fill="#000" stroke="#000" stroke-width="0.1">DOCK1</text>
<text transform="translate(133.13 436.7) rotate(90)" fill="#000" stroke="#000" stroke-width="0.1">WEE1</text>
<text transform="translate(137.03 436.7) rotate(90)" fill="#000" stroke="#000" stroke-width="0.1">SLC7A11</text>
<text transform="translate(140.94 436.7) rotate(90)" fill="#000" stroke="#000" stroke-width="0.1">MGST1</text>
<text transform="translate(144.85 436.7) rotate(90)" fill="#000" stroke="#000" stroke-width="0.1">ZYX</text>
<text transform="translate(148.76 436.7) rotate(90)" fill="#000" stroke="#000" stroke-width="0.1">GNL3</text>
<text transform="translate(152.66 436.7) rotate(90)" fill="#000" stroke="#000" stroke-width="0.1">HECTD1</text>
<text transform="translate(156.57 436.7) rotate(90)" fill="#000" stroke="#000" stroke-width="0.1">DHRS7</text>
<text transform="translate(160.48 436.7) rotate(90)" fill="#000" stroke="#000" stroke-width="0.1">PAK4</text>
<text transform="translate(164.38 436.7) rotate(90)" fill="#000" stroke="#000" stroke-width="0.1">C3orf38</text>
<text transform="translate(168.29 436.7) rotate(90)" fill="#000" stroke="#000" stroke-width="0.1">SCN1A</text>
<text transform="translate(172.20 436.7) rotate(90)" fill="#000" stroke="#000" stroke-width="0.1">USP14</text>
<text transform="translate(176.10 436.7) rotate(90)" fill="#000" stroke="#000" stroke-width="0.1">C10orf41</text>
<text transform="translate(180.01 436.7) rotate(90)" fill="#000" stroke="#000" stroke-width="0.1">CEP72</text>
<text transform="translate(183.92 436.7) rotate(90)" fill="#000" stroke="#000" stroke-width="0.1">SYNJ2</text>
<text transform="translate(187.83 436.7) rotate(90)" fill="#000" stroke="#000" stroke-width="0.1">SOCS6</text>
<line x1="193.60" y1="436.40" x2="193.60" y2="453.40" stroke="#3565c8" stroke-width="0.8"/>
<text transform="translate(195.64 436.7) rotate(90)" fill="#000" stroke="#000" stroke-width="0.1">GALNS</text>
<text transform="translate(199.55 436.7) rotate(90)" fill="#000" stroke="#000" stroke-width="0.1">C2orf28</text>
<text transform="translate(203.45 436.7) rotate(90)" fill="#000" stroke="#000" stroke-width="0.1">FAM160B1</text>
<text transform="translate(207.36 436.7) rotate(90)" fill="#000" stroke="#000" stroke-width="0.1">NDEL1</text>
<text transform="translate(211.27 436.7) rotate(90)" fill="#000" stroke="#000" stroke-width="0.1">KLHL36</text>
<text transform="translate(215.17 436.7) rotate(90)" fill="#000" stroke="#000" stroke-width="0.1">MAP1B</text>
<text transform="translate(219.08 436.7) rotate(90)" fill="#000" stroke="#000" stroke-width="0.1">LRRC8</text>
<text transform="translate(222.99 436.7) rotate(90)" fill="#000" stroke="#000" stroke-width="0.1">DCBLD2</text>
<text transform="translate(226.90 436.7) rotate(90)" fill="#000" stroke="#000" stroke-width="0.1">SCG5</text>
<text transform="translate(230.80 436.7) rotate(90)" fill="#000" stroke="#000" stroke-width="0.1">TTC9</text>
<text transform="translate(234.71 436.7) rotate(90)" fill="#000" stroke="#000" stroke-width="0.1">USHBP1</text>
<text transform="translate(238.62 436.7) rotate(90)" fill="#000" stroke="#000" stroke-width="0.1">SHD</text>
<text transform="translate(242.52 436.7) rotate(90)" fill="#000" stroke="#000" stroke-width="0.1">CASK</text>
<text transform="translate(246.43 436.7) rotate(90)" fill="#000" stroke="#000" stroke-width="0.1">GEN1</text>
<text transform="translate(250.34 436.7) rotate(90)" fill="#000" stroke="#000" stroke-width="0.1">PARP4</text>
<text transform="translate(254.24 436.7) rotate(90)" fill="#000" stroke="#000" stroke-width="0.1">FANCI</text>
<text transform="translate(258.15 436.7) rotate(90)" fill="#000" stroke="#000" stroke-width="0.1">KCTD18</text>
<text transform="translate(262.06 436.7) rotate(90)" fill="#000" stroke="#000" stroke-width="0.1">DTD1</text>
<text transform="translate(265.97 436.7) rotate(90)" fill="#000" stroke="#000" stroke-width="0.1">ZNF319</text>
<text transform="translate(269.87 436.7) rotate(90)" fill="#000" stroke="#000" stroke-width="0.1">SCO1</text>
<text transform="translate(273.78 436.7) rotate(90)" fill="#000" stroke="#000" stroke-width="0.1">PCK2</text>
<text transform="translate(277.69 436.7) rotate(90)" fill="#000" stroke="#000" stroke-width="0.1">CCDC93</text>
<text transform="translate(281.59 436.7) rotate(90)" fill="#000" stroke="#000" stroke-width="0.1">VCAM1</text>
<text transform="translate(285.50 436.7) rotate(90)" fill="#000" stroke="#000" stroke-width="0.1">SEMA4</text>
<text transform="translate(289.41 436.7) rotate(90)" fill="#000" stroke="#000" stroke-width="0.1">UFM1</text>
<text transform="translate(293.31 436.7) rotate(90)" fill="#000" stroke="#000" stroke-width="0.1">LAP3</text>
<text transform="translate(297.22 436.7) rotate(90)" fill="#000" stroke="#000" stroke-width="0.1">ARHGEF7</text>
<text transform="translate(301.13 436.7) rotate(90)" fill="#000" stroke="#000" stroke-width="0.1">LOC100193</text>
<text transform="translate(305.04 436.7) rotate(90)" fill="#000" stroke="#000" stroke-width="0.1">CCR3</text>
<text transform="translate(308.94 436.7) rotate(90)" fill="#000" stroke="#000" stroke-width="0.1">OAT</text>
<text transform="translate(312.85 436.7) rotate(90)" fill="#000" stroke="#000" stroke-width="0.1">NANP</text>
<text transform="translate(316.76 436.7) rotate(90)" fill="#000" stroke="#000" stroke-width="0.1">MARS</text>
<text transform="translate(320.66 436.7) rotate(90)" fill="#000" stroke="#000" stroke-width="0.1">ATXN1</text>
<text transform="translate(324.57 436.7) rotate(90)" fill="#000" stroke="#000" stroke-width="0.1">SNF1LK</text>
<text transform="translate(328.48 436.7) rotate(90)" fill="#000" stroke="#000" stroke-width="0.1">EVC</text>
<text transform="translate(332.38 436.7) rotate(90)" fill="#000" stroke="#000" stroke-width="0.1">BANP</text>
<text transform="translate(336.29 436.7) rotate(90)" fill="#000" stroke="#000" stroke-width="0.1">SNX11</text>
<text transform="translate(340.20 436.7) rotate(90)" fill="#000" stroke="#000" stroke-width="0.1">NCAPD3</text>
<text transform="translate(344.11 436.7) rotate(90)" fill="#000" stroke="#000" stroke-width="0.1">JAK2</text>
<text transform="translate(348.01 436.7) rotate(90)" fill="#000" stroke="#000" stroke-width="0.1">ZNF548</text>
<text transform="translate(351.92 436.7) rotate(90)" fill="#000" stroke="#000" stroke-width="0.1">TNUB1</text>
<text transform="translate(355.83 436.7) rotate(90)" fill="#000" stroke="#000" stroke-width="0.1">MTBP</text>
<text transform="translate(359.73 436.7) rotate(90)" fill="#000" stroke="#000" stroke-width="0.1">PIK1</text>
<text transform="translate(363.64 436.7) rotate(90)" fill="#000" stroke="#000" stroke-width="0.1">PLCL2</text>
<text transform="translate(367.55 436.7) rotate(90)" fill="#c8193c" stroke="#c8193c" stroke-width="0.1">USP25</text>
<text transform="translate(371.45 436.7) rotate(90)" fill="#000" stroke="#000" stroke-width="0.1">HBP1</text>
<text transform="translate(375.36 436.7) rotate(90)" fill="#000" stroke="#000" stroke-width="0.1">SEPP5</text>
<text transform="translate(379.27 436.7) rotate(90)" fill="#000" stroke="#000" stroke-width="0.1">TTYH3</text>
<text transform="translate(383.18 436.7) rotate(90)" fill="#000" stroke="#000" stroke-width="0.1">ST3GAL</text>
<text transform="translate(387.08 436.7) rotate(90)" fill="#000" stroke="#000" stroke-width="0.1">RAB6B</text>
<text transform="translate(390.99 436.7) rotate(90)" fill="#000" stroke="#000" stroke-width="0.1">CENPK</text>
<text transform="translate(394.90 436.7) rotate(90)" fill="#000" stroke="#000" stroke-width="0.1">TPM1</text>
<text transform="translate(398.80 436.7) rotate(90)" fill="#000" stroke="#000" stroke-width="0.1">OCIAD2</text>
<text transform="translate(402.71 436.7) rotate(90)" fill="#000" stroke="#000" stroke-width="0.1">TCF7</text>
<text transform="translate(406.62 436.7) rotate(90)" fill="#000" stroke="#000" stroke-width="0.1">SFXN3</text>
<text transform="translate(410.52 436.7) rotate(90)" fill="#000" stroke="#000" stroke-width="0.1">LRP5</text>
<text transform="translate(414.43 436.7) rotate(90)" fill="#000" stroke="#000" stroke-width="0.1">NEK6</text>
<text transform="translate(418.34 436.7) rotate(90)" fill="#000" stroke="#000" stroke-width="0.1">RAP2A</text>
<text transform="translate(422.25 436.7) rotate(90)" fill="#000" stroke="#000" stroke-width="0.1">ACOT9</text>
<text transform="translate(426.15 436.7) rotate(90)" fill="#000" stroke="#000" stroke-width="0.1">GPR56</text>
<text transform="translate(430.06 436.7) rotate(90)" fill="#000" stroke="#000" stroke-width="0.1">BMP4</text>
<text transform="translate(433.97 436.7) rotate(90)" fill="#000" stroke="#000" stroke-width="0.1">ECM1</text>
<text transform="translate(437.87 436.7) rotate(90)" fill="#000" stroke="#000" stroke-width="0.1">FHL2</text>
<text transform="translate(441.78 436.7) rotate(90)" fill="#000" stroke="#000" stroke-width="0.1">TRIB3</text>
<text transform="translate(445.69 436.7) rotate(90)" fill="#000" stroke="#000" stroke-width="0.1">MYO6</text>
<text transform="translate(449.59 436.7) rotate(90)" fill="#000" stroke="#000" stroke-width="0.1">ENC1</text>
<text transform="translate(453.50 436.7) rotate(90)" fill="#000" stroke="#000" stroke-width="0.1">IL32</text>
<text transform="translate(457.41 436.7) rotate(90)" fill="#000" stroke="#000" stroke-width="0.1">GLUL</text>
<text transform="translate(461.32 436.7) rotate(90)" fill="#000" stroke="#000" stroke-width="0.1">CD9</text>
<text transform="translate(465.22 436.7) rotate(90)" fill="#000" stroke="#000" stroke-width="0.1">CRIP1</text>
</g>
<text transform="translate(41.6 457) rotate(90)" font-size="7.3" fill="#c8193c" stroke="#c8193c" stroke-width="0.2">LAMP2</text>
<text transform="translate(191.0 456.6) rotate(90)" font-size="7.3" fill="#c8193c" stroke="#c8193c" stroke-width="0.2">SORT1</text>
<text x="472" y="440.8" font-size="5.4" fill="#444">&amp;</text>
<text x="405.00" y="471.60" font-size="7.2" fill="#111">High</text>
<text x="443.60" y="471.60" font-size="7.2" fill="#111">Low</text>
<rect x="405.00" y="476.00" width="53.00" height="3.00" fill="url(#gLeg)"/>
<text x="74.80" y="509.30" font-size="8.7" fill="#111" text-anchor="middle">KMS21</text>
<text x="134.40" y="509.30" font-size="8.7" fill="#111" text-anchor="middle">KMS27</text>
<text x="195.20" y="509.30" font-size="8.7" fill="#111" text-anchor="middle">KMS34</text>
<rect x="46.60" y="514.30" width="180.00" height="15.90" fill="#ececec"/>
<clipPath id="cp0"><rect x="46.6" y="514.3" width="180.0" height="15.900000000000091"/></clipPath>
<g clip-path="url(#cp0)"><g filter="url(#b1)">
<rect x="52.1" y="519.35" width="21.0" height="2.60" rx="1.30" fill="#050505" opacity="0.78"/>
<rect x="78.3" y="518.75" width="24.6" height="7.00" rx="3.50" fill="#050505" opacity="1.0"/>
<rect x="108.9" y="521.05" width="23.0" height="4.00" rx="2.00" fill="#050505" opacity="0.93"/>
<rect x="137.3" y="519.95" width="26.0" height="5.20" rx="2.60" fill="#050505" opacity="0.97"/>
<rect x="168.0" y="520.65" width="24.0" height="4.40" rx="2.20" fill="#050505" opacity="0.95"/>
<rect x="198.6" y="519.85" width="24.0" height="6.20" rx="3.10" fill="#050505" opacity="0.9"/>
</g></g>
<rect x="46.6" y="514.3" width="180.0" height="15.900000000000091" fill="none" stroke="#0a0a0a" stroke-width="1.25"/>
<text x="42.70" y="525.65" font-size="9.0" fill="#111" text-anchor="end">LAMP2</text>
<rect x="46.60" y="536.30" width="180.00" height="15.90" fill="#dedede"/>
<clipPath id="cp1"><rect x="46.6" y="536.3" width="180.0" height="15.900000000000091"/></clipPath>
<g clip-path="url(#cp1)"><g filter="url(#b1)">
<rect x="79.1" y="542.55" width="23.0" height="4.00" rx="2.00" fill="#050505" opacity="0.45"/>
<rect x="111.4" y="543.05" width="18.0" height="2.40" rx="1.20" fill="#050505" opacity="0.1"/>
<rect x="139.3" y="542.15" width="22.0" height="3.80" rx="1.90" fill="#050505" opacity="0.6"/>
<rect x="167.7" y="541.75" width="24.6" height="5.80" rx="2.90" fill="#050505" opacity="1.0"/>
<rect x="198.8" y="542.85" width="23.6" height="6.80" rx="3.40" fill="#050505" opacity="1.0"/>
</g></g>
<rect x="46.6" y="536.3" width="180.0" height="15.900000000000091" fill="none" stroke="#0a0a0a" stroke-width="1.25"/>
<text x="42.70" y="547.65" font-size="9.0" fill="#111" text-anchor="end">SORT1</text>
<rect x="46.60" y="558.20" width="180.00" height="16.20" fill="#e6e6e6"/>
<clipPath id="cp2"><rect x="46.6" y="558.2" width="180.0" height="16.199999999999932"/></clipPath>
<g clip-path="url(#cp2)"><g filter="url(#b1)">
<rect x="50.0" y="562.00" width="25.2" height="6.20" rx="3.10" fill="#050505" opacity="1.0"/>
<rect x="78.2" y="562.50" width="24.8" height="8.00" rx="4.00" fill="#050505" opacity="1.0"/>
<rect x="108.6" y="564.00" width="23.6" height="5.40" rx="2.70" fill="#050505" opacity="0.92"/>
<rect x="138.8" y="563.60" width="23.0" height="3.80" rx="1.90" fill="#050505" opacity="0.82"/>
<rect x="168.5" y="565.30" width="23.0" height="4.40" rx="2.20" fill="#050505" opacity="0.42"/>
<rect x="199.6" y="567.40" width="22.0" height="3.00" rx="1.50" fill="#050505" opacity="0.16"/>
</g></g>
<rect x="46.6" y="558.2" width="180.0" height="16.199999999999932" fill="none" stroke="#0a0a0a" stroke-width="1.25"/>
<text x="42.70" y="569.70" font-size="9.0" fill="#111" text-anchor="end">VLA-4</text>
<rect x="46.60" y="579.60" width="180.00" height="16.40" fill="#ededed"/>
<clipPath id="cp3"><rect x="46.6" y="579.6" width="180.0" height="16.399999999999977"/></clipPath>
<g clip-path="url(#cp3)"><g filter="url(#b1)">
<rect x="50.6" y="583.50" width="24.0" height="3.80" rx="1.90" fill="#050505" opacity="0.97"/>
<rect x="78.8" y="583.50" width="23.6" height="5.00" rx="2.50" fill="#050505" opacity="1.0"/>
<rect x="109.9" y="585.70" width="21.0" height="2.60" rx="1.30" fill="#050505" opacity="0.5"/>
<rect x="136.3" y="584.10" width="28.0" height="7.00" rx="3.50" fill="#050505" opacity="1.0"/>
<rect x="168.0" y="585.30" width="24.0" height="4.20" rx="2.10" fill="#050505" opacity="0.97"/>
<rect x="197.6" y="585.00" width="26.0" height="4.80" rx="2.40" fill="#050505" opacity="0.98"/>
</g></g>
<rect x="46.6" y="579.6" width="180.0" height="16.399999999999977" fill="none" stroke="#0a0a0a" stroke-width="1.25"/>
<text x="42.70" y="591.20" font-size="9.0" fill="#111" text-anchor="end">STAT3</text>
<rect x="46.60" y="601.50" width="180.00" height="16.40" fill="#e4e4e4"/>
<clipPath id="cp4"><rect x="46.6" y="601.5" width="180.0" height="16.399999999999977"/></clipPath>
<g clip-path="url(#cp4)"><g filter="url(#b1)">
<rect x="54.6" y="608.70" width="16.0" height="2.00" rx="1.00" fill="#050505" opacity="0.04"/>
<rect x="78.6" y="607.60" width="24.0" height="5.00" rx="2.50" fill="#050505" opacity="1.0"/>
<rect x="112.4" y="608.70" width="16.0" height="2.00" rx="1.00" fill="#050505" opacity="0.03"/>
<rect x="141.3" y="609.10" width="18.0" height="2.40" rx="1.20" fill="#050505" opacity="0.1"/>
<rect x="167.0" y="606.60" width="26.0" height="6.20" rx="3.10" fill="#050505" opacity="1.0"/>
<rect x="196.6" y="606.40" width="28.0" height="7.00" rx="3.50" fill="#050505" opacity="1.0"/>
</g></g>
<rect x="46.6" y="601.5" width="180.0" height="16.399999999999977" fill="none" stroke="#0a0a0a" stroke-width="1.25"/>
<text x="42.70" y="613.10" font-size="9.0" fill="#111" text-anchor="end">p-STAT3</text>
<rect x="46.60" y="623.80" width="180.00" height="16.20" fill="#e9e9e9"/>
<clipPath id="cp5"><rect x="46.6" y="623.8" width="180.0" height="16.200000000000045"/></clipPath>
<g clip-path="url(#cp5)"><g filter="url(#b1)">
<rect x="49.6" y="630.00" width="26.0" height="5.40" rx="2.70" fill="#050505" opacity="1.0"/>
<rect x="77.1" y="629.20" width="27.0" height="6.20" rx="3.10" fill="#050505" opacity="1.0"/>
<rect x="107.4" y="629.30" width="26.0" height="5.60" rx="2.80" fill="#050505" opacity="1.0"/>
<rect x="137.3" y="629.30" width="26.0" height="5.60" rx="2.80" fill="#050505" opacity="1.0"/>
<rect x="167.5" y="629.80" width="25.0" height="5.00" rx="2.50" fill="#050505" opacity="1.0"/>
<rect x="198.1" y="628.70" width="25.0" height="5.20" rx="2.60" fill="#050505" opacity="1.0"/>
</g></g>
<rect x="46.6" y="623.8" width="180.0" height="16.200000000000045" fill="none" stroke="#0a0a0a" stroke-width="1.25"/>
<text x="42.70" y="635.30" font-size="9.0" fill="#111" text-anchor="end">β-actin</text>
<line x1="46.20" y1="642.20" x2="105.60" y2="642.20" stroke="#111" stroke-width="1.1"/>
<line x1="107.60" y1="642.20" x2="166.80" y2="642.20" stroke="#111" stroke-width="1.1"/>
<line x1="168.60" y1="642.20" x2="227.60" y2="642.20" stroke="#111" stroke-width="1.1"/>
<text x="63.00" y="654.60" font-size="8.7" fill="#111" text-anchor="middle">P</text>
<text x="89.50" y="654.60" font-size="8.7" fill="#111" text-anchor="middle">R</text>
<text x="121.00" y="654.60" font-size="8.7" fill="#111" text-anchor="middle">P</text>
<text x="149.50" y="654.60" font-size="8.7" fill="#111" text-anchor="middle">R</text>
<text x="181.00" y="654.60" font-size="8.7" fill="#111" text-anchor="middle">P</text>
<text x="209.50" y="654.60" font-size="8.7" fill="#111" text-anchor="middle">R</text>
<text x="131.60" y="669.30" font-size="6.8" fill="#222">P: parental</text>
<text x="176.30" y="669.30" font-size="6.9" fill="#222">R: resistance</text>
<rect x="289.00" y="576.60" width="8.90" height="30.00" fill="#c41230"/>
<rect x="297.90" y="527.40" width="8.90" height="79.20" fill="#135285"/>
<rect x="315.70" y="576.60" width="8.90" height="30.00" fill="#c41230"/>
<rect x="324.60" y="543.60" width="8.90" height="63.00" fill="#135285"/>
<rect x="342.40" y="576.60" width="8.90" height="30.00" fill="#c41230"/>
<rect x="351.30" y="552.90" width="8.90" height="53.70" fill="#135285"/>
<line x1="288.60" y1="512.50" x2="288.60" y2="607.20" stroke="#111" stroke-width="1.2"/>
<line x1="288.00" y1="606.60" x2="373.80" y2="606.60" stroke="#111" stroke-width="1.2"/>
<line x1="285.80" y1="606.60" x2="288.60" y2="606.60" stroke="#111" stroke-width="0.9"/>
<text x="282.60" y="609.45" font-size="8.0" fill="#111" text-anchor="end">0</text>
<line x1="285.80" y1="591.60" x2="288.60" y2="591.60" stroke="#111" stroke-width="0.9"/>
<text x="282.60" y="594.45" font-size="8.0" fill="#111" text-anchor="end">0.5</text>
<line x1="285.80" y1="576.60" x2="288.60" y2="576.60" stroke="#111" stroke-width="0.9"/>
<text x="282.60" y="579.45" font-size="8.0" fill="#111" text-anchor="end">1</text>
<line x1="285.80" y1="561.60" x2="288.60" y2="561.60" stroke="#111" stroke-width="0.9"/>
<text x="282.60" y="564.45" font-size="8.0" fill="#111" text-anchor="end">1.5</text>
<line x1="285.80" y1="546.60" x2="288.60" y2="546.60" stroke="#111" stroke-width="0.9"/>
<text x="282.60" y="549.45" font-size="8.0" fill="#111" text-anchor="end">2</text>
<line x1="285.80" y1="531.60" x2="288.60" y2="531.60" stroke="#111" stroke-width="0.9"/>
<text x="282.60" y="534.45" font-size="8.0" fill="#111" text-anchor="end">2.5</text>
<line x1="285.80" y1="516.60" x2="288.60" y2="516.60" stroke="#111" stroke-width="0.9"/>
<text x="282.60" y="519.45" font-size="8.0" fill="#111" text-anchor="end">3</text>
<line x1="289.00" y1="606.60" x2="289.00" y2="609.30" stroke="#111" stroke-width="0.8"/>
<line x1="297.90" y1="606.60" x2="297.90" y2="609.30" stroke="#111" stroke-width="0.8"/>
<line x1="306.80" y1="606.60" x2="306.80" y2="609.30" stroke="#111" stroke-width="0.8"/>
<line x1="315.70" y1="606.60" x2="315.70" y2="609.30" stroke="#111" stroke-width="0.8"/>
<line x1="324.60" y1="606.60" x2="324.60" y2="609.30" stroke="#111" stroke-width="0.8"/>
<line x1="333.50" y1="606.60" x2="333.50" y2="609.30" stroke="#111" stroke-width="0.8"/>
<line x1="342.40" y1="606.60" x2="342.40" y2="609.30" stroke="#111" stroke-width="0.8"/>
<line x1="351.30" y1="606.60" x2="351.30" y2="609.30" stroke="#111" stroke-width="0.8"/>
<line x1="360.20" y1="606.60" x2="360.20" y2="609.30" stroke="#111" stroke-width="0.8"/>
<line x1="369.10" y1="606.60" x2="369.10" y2="609.30" stroke="#111" stroke-width="0.8"/>
<text transform="translate(296.15 613.00) rotate(-90)" font-size="7.4" fill="#111" text-anchor="end">KMS21</text>
<text transform="translate(305.05 613.00) rotate(-90)" font-size="7.4" fill="#111" text-anchor="end">KMS21R</text>
<text transform="translate(322.85 613.00) rotate(-90)" font-size="7.4" fill="#111" text-anchor="end">KMS27</text>
<text transform="translate(331.75 613.00) rotate(-90)" font-size="7.4" fill="#111" text-anchor="end">KMS27R</text>
<text transform="translate(349.55 613.00) rotate(-90)" font-size="7.4" fill="#111" text-anchor="end">KMS34</text>
<text transform="translate(358.45 613.00) rotate(-90)" font-size="7.4" fill="#111" text-anchor="end">KMS34R</text>
<text transform="translate(253.90 561.30) rotate(-90) scale(0.72 1)" font-size="8.6" fill="#111" stroke="#111" stroke-width="0.3" text-anchor="middle">Relative expression</text>
<text transform="translate(265.90 561.60) rotate(-90) scale(0.72 1)" font-size="8.6" fill="#111" stroke="#111" stroke-width="0.3" text-anchor="middle">level of LAMP2</text>
<rect x="426.90" y="602.15" width="8.90" height="5.05" fill="#c41230"/>
<rect x="435.80" y="526.90" width="8.90" height="80.30" fill="#135285"/>
<rect x="453.60" y="602.15" width="8.90" height="5.05" fill="#c41230"/>
<rect x="462.50" y="564.28" width="8.90" height="42.92" fill="#135285"/>
<rect x="480.30" y="602.15" width="8.90" height="5.05" fill="#c41230"/>
<rect x="489.20" y="597.61" width="8.90" height="9.60" fill="#135285"/>
<rect x="423.50" y="550.60" width="22.50" height="4.60" fill="#fff"/>
<line x1="426.50" y1="522.90" x2="426.50" y2="550.60" stroke="#111" stroke-width="1.2"/>
<line x1="426.50" y1="555.20" x2="426.50" y2="607.80" stroke="#111" stroke-width="1.2"/>
<line x1="425.90" y1="607.20" x2="511.10" y2="607.20" stroke="#111" stroke-width="1.2"/>
<line x1="423.70" y1="607.20" x2="426.50" y2="607.20" stroke="#111" stroke-width="0.9"/>
<text x="420.50" y="610.05" font-size="8.0" fill="#111" text-anchor="end">0</text>
<line x1="423.70" y1="587.00" x2="426.50" y2="587.00" stroke="#111" stroke-width="0.9"/>
<text x="420.50" y="589.85" font-size="8.0" fill="#111" text-anchor="end">4</text>
<line x1="423.70" y1="566.80" x2="426.50" y2="566.80" stroke="#111" stroke-width="0.9"/>
<text x="420.50" y="569.65" font-size="8.0" fill="#111" text-anchor="end">8</text>
<line x1="423.70" y1="547.10" x2="426.50" y2="547.10" stroke="#111" stroke-width="0.9"/>
<text x="420.50" y="549.95" font-size="8.0" fill="#111" text-anchor="end">350</text>
<line x1="423.70" y1="526.90" x2="426.50" y2="526.90" stroke="#111" stroke-width="0.9"/>
<text x="420.50" y="529.75" font-size="8.0" fill="#111" text-anchor="end">400</text>
<line x1="426.90" y1="607.20" x2="426.90" y2="609.90" stroke="#111" stroke-width="0.8"/>
<line x1="435.80" y1="607.20" x2="435.80" y2="609.90" stroke="#111" stroke-width="0.8"/>
<line x1="444.70" y1="607.20" x2="444.70" y2="609.90" stroke="#111" stroke-width="0.8"/>
<line x1="453.60" y1="607.20" x2="453.60" y2="609.90" stroke="#111" stroke-width="0.8"/>
<line x1="462.50" y1="607.20" x2="462.50" y2="609.90" stroke="#111" stroke-width="0.8"/>
<line x1="471.40" y1="607.20" x2="471.40" y2="609.90" stroke="#111" stroke-width="0.8"/>
<line x1="480.30" y1="607.20" x2="480.30" y2="609.90" stroke="#111" stroke-width="0.8"/>
<line x1="489.20" y1="607.20" x2="489.20" y2="609.90" stroke="#111" stroke-width="0.8"/>
<line x1="498.10" y1="607.20" x2="498.10" y2="609.90" stroke="#111" stroke-width="0.8"/>
<line x1="507.00" y1="607.20" x2="507.00" y2="609.90" stroke="#111" stroke-width="0.8"/>
<text transform="translate(434.05 613.60) rotate(-90)" font-size="7.4" fill="#111" text-anchor="end">KMS21</text>
<text transform="translate(442.95 613.60) rotate(-90)" font-size="7.4" fill="#111" text-anchor="end">KMS21R</text>
<text transform="translate(460.75 613.60) rotate(-90)" font-size="7.4" fill="#111" text-anchor="end">KMS27</text>
<text transform="translate(469.65 613.60) rotate(-90)" font-size="7.4" fill="#111" text-anchor="end">KMS27R</text>
<text transform="translate(487.45 613.60) rotate(-90)" font-size="7.4" fill="#111" text-anchor="end">KMS34</text>
<text transform="translate(496.35 613.60) rotate(-90)" font-size="7.4" fill="#111" text-anchor="end">KMS34R</text>
<text transform="translate(393.30 567.00) rotate(-90) scale(0.72 1)" font-size="8.6" fill="#111" stroke="#111" stroke-width="0.3" text-anchor="middle">Relative expression</text>
<text transform="translate(404.00 567.30) rotate(-90) scale(0.72 1)" font-size="8.6" fill="#111" stroke="#111" stroke-width="0.3" text-anchor="middle">level of SORT1</text>
</svg>
</body></html>
